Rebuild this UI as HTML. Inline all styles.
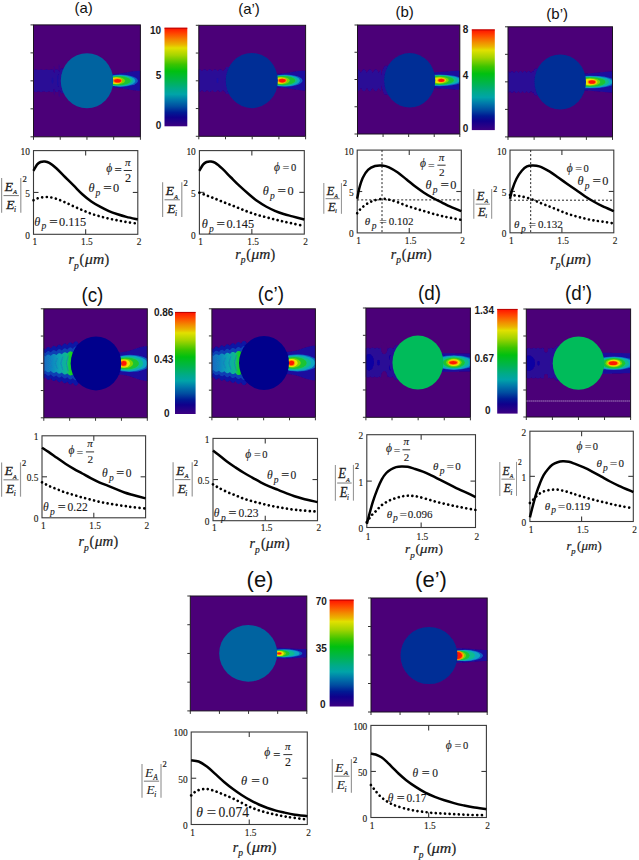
<!DOCTYPE html><html><head><meta charset="utf-8"><style>html,body{margin:0;padding:0;background:#fff;}svg{display:block;}</style></head><body>
<svg width="639" height="860" viewBox="0 0 639 860">
<rect width="639" height="860" fill="#fff"/>
<defs>
<linearGradient id="jet" x1="0" y1="0" x2="0" y2="1">
<stop offset="0.0" stop-color="#ff1000"/>
<stop offset="0.06" stop-color="#ff4800"/>
<stop offset="0.125" stop-color="#f28a00"/>
<stop offset="0.17" stop-color="#eab400"/>
<stop offset="0.205" stop-color="#e2e000"/>
<stop offset="0.28" stop-color="#a4d400"/>
<stop offset="0.37" stop-color="#3cc400"/>
<stop offset="0.44" stop-color="#00c010"/>
<stop offset="0.54" stop-color="#00b450"/>
<stop offset="0.62" stop-color="#00aa8a"/>
<stop offset="0.675" stop-color="#00a4a8"/>
<stop offset="0.735" stop-color="#0078aa"/>
<stop offset="0.8" stop-color="#004ca0"/>
<stop offset="0.86" stop-color="#001a94"/>
<stop offset="0.91" stop-color="#10008c"/>
<stop offset="1.0" stop-color="#3c0082"/>
</linearGradient>
<filter id="bl" x="-5%" y="-5%" width="110%" height="110%"><feGaussianBlur stdDeviation="0.55"/></filter>
</defs>
<clipPath id="hm1"><rect x="33.5" y="24.9" width="106.9" height="111.9"/></clipPath>
<rect x="33.5" y="24.9" width="106.9" height="111.9" fill="#4b0078"/>
<g clip-path="url(#hm1)"><g filter="url(#bl)">
<path d="M31.5,69.47 L31.85,69.6 L32.21,69.74 L32.56,69.88 L32.91,69.99 L33.27,70.05 L33.62,70.04 L33.97,69.97 L34.33,69.85 L34.68,69.71 L35.03,69.56 L35.39,69.44 L35.74,69.37 L36.09,69.35 L36.45,69.4 L36.8,69.5 L37.15,69.64 L37.51,69.79 L37.86,69.92 L38.21,70.01 L38.56,70.05 L38.92,70.02 L39.27,69.94 L39.62,69.81 L39.98,69.67 L40.33,69.53 L40.68,69.42 L41.04,69.36 L41.39,69.36 L41.74,69.42 L42.1,69.54 L42.45,69.68 L42.8,69.83 L43.16,69.95 L43.51,70.03 L43.86,70.05 L44.22,70.01 L44.57,69.91 L44.92,69.77 L45.28,69.63 L45.63,69.49 L45.98,69.39 L46.34,69.35 L46.69,69.37 L47.04,69.45 L47.4,69.57 L47.75,69.72 L48.1,69.86 L48.46,69.98 L48.81,70.04 L49.16,70.04 L49.52,69.98 L49.87,69.87 L50.22,69.73 L50.57,69.59 L50.93,69.46 L51.28,69.38 L51.63,69.35 L51.99,69.39 L52.34,69.48 L52.69,69.61 L53.05,69.76 L53.4,69.9 L53.75,70 L54.11,70.05 L54.46,70.03 L54.81,69.96 L55.17,69.84 L55.52,69.69 L55.87,69.55 L56.23,69.43 L56.58,69.36 L56.93,69.35 L57.29,69.41 L57.64,69.52 L57.99,69.65 L58.35,69.8 L58.7,69.93 L59.05,70.02 L59.41,70.05 L59.76,70.02 L60.11,69.93 L60.47,69.8 L60.82,69.65 L61.17,69.51 L61.53,69.41 L61.88,69.35 L62.23,69.36 L62.58,69.43 L62.94,69.55 L63.29,69.7 L63.64,69.84 L64,69.96 L64.35,70.03 L64.7,70.05 L65.06,70 L65.41,69.9 L65.76,69.76 L66.12,69.61 L66.47,69.48 L66.82,69.39 L67.18,69.35 L67.53,69.38 L67.88,69.46 L68.24,69.59 L68.59,69.74 L68.59,91.76 L68.24,91.91 L67.88,92.04 L67.53,92.12 L67.18,92.15 L66.82,92.11 L66.47,92.02 L66.12,91.89 L65.76,91.74 L65.41,91.6 L65.06,91.5 L64.7,91.45 L64.35,91.47 L64,91.54 L63.64,91.66 L63.29,91.8 L62.94,91.95 L62.58,92.07 L62.23,92.14 L61.88,92.15 L61.53,92.09 L61.17,91.99 L60.82,91.85 L60.47,91.7 L60.11,91.57 L59.76,91.48 L59.41,91.45 L59.05,91.48 L58.7,91.57 L58.35,91.7 L57.99,91.85 L57.64,91.98 L57.29,92.09 L56.93,92.15 L56.58,92.14 L56.23,92.07 L55.87,91.95 L55.52,91.81 L55.17,91.66 L54.81,91.54 L54.46,91.47 L54.11,91.45 L53.75,91.5 L53.4,91.6 L53.05,91.74 L52.69,91.89 L52.34,92.02 L51.99,92.11 L51.63,92.15 L51.28,92.12 L50.93,92.04 L50.57,91.91 L50.22,91.77 L49.87,91.63 L49.52,91.52 L49.16,91.46 L48.81,91.46 L48.46,91.52 L48.1,91.64 L47.75,91.78 L47.4,91.93 L47.04,92.05 L46.69,92.13 L46.34,92.15 L45.98,92.11 L45.63,92.01 L45.28,91.87 L44.92,91.73 L44.57,91.59 L44.22,91.49 L43.86,91.45 L43.51,91.47 L43.16,91.55 L42.8,91.67 L42.45,91.82 L42.1,91.96 L41.74,92.08 L41.39,92.14 L41.04,92.14 L40.68,92.08 L40.33,91.97 L39.98,91.83 L39.62,91.69 L39.27,91.56 L38.92,91.48 L38.56,91.45 L38.21,91.49 L37.86,91.58 L37.51,91.71 L37.15,91.86 L36.8,92 L36.45,92.1 L36.09,92.15 L35.74,92.13 L35.39,92.06 L35.03,91.94 L34.68,91.79 L34.33,91.65 L33.97,91.53 L33.62,91.46 L33.27,91.45 L32.91,91.51 L32.56,91.62 L32.21,91.76 L31.85,91.9 L31.5,92.03 Z" fill="#2a0896"/>
<ellipse cx="52.5" cy="80.7" rx="0.9" ry="3" fill="#1a0aa0"/><ellipse cx="58" cy="80.7" rx="1" ry="6" fill="#1a0aa0"/>
<clipPath id="hm1f"><rect x="33.5" y="68.25" width="53.5" height="25"/></clipPath>
<ellipse clip-path="url(#hm1f)" cx="87" cy="80.75" rx="28.8" ry="28.6" fill="#2a0896"/>
<ellipse cx="54.3" cy="69.5" rx="0.8" ry="3.2" fill="#3c0488"/><ellipse cx="54.3" cy="92" rx="0.8" ry="3.2" fill="#3c0488"/><ellipse cx="59.2" cy="68" rx="0.8" ry="3.5" fill="#3c0488"/><ellipse cx="59.2" cy="93.5" rx="0.8" ry="3.5" fill="#3c0488"/>
<path d="M109.3,74.05 C124.14,74.05 129.56,70.75 142.4,70.75 L142.4,90.75 C129.56,90.75 124.14,87.45 109.3,87.45 Z" fill="#1a0c9e"/>
<ellipse cx="120.69" cy="80.75" rx="17.25" ry="6.16" fill="#0a5cc0"/><ellipse cx="119.9" cy="80.75" rx="15.4" ry="5.7" fill="#10a4c4"/><ellipse cx="119.19" cy="80.75" rx="13.75" ry="5.15" fill="#10bc90"/><ellipse cx="118.49" cy="80.75" rx="12.11" ry="4.6" fill="#1ec432"/><ellipse cx="116.83" cy="80.75" rx="8.24" ry="3.69" fill="#80d400"/><ellipse cx="115.94" cy="80.75" rx="6.16" ry="3.2" fill="#ece600"/><ellipse cx="117.6" cy="80.75" rx="4.55" ry="2.43" fill="#ff8c00"/><ellipse cx="117.6" cy="80.75" rx="3.5" ry="1.8" fill="#ff1800"/>
<ellipse cx="87" cy="80.75" rx="26.3" ry="27.6" fill="#0063a0"/>
</g></g>
<rect x="33.5" y="24.9" width="106.9" height="111.9" fill="none" stroke="#1a1020" stroke-width="1"/>
<line x1="30.5" y1="24.9" x2="33.5" y2="24.9" stroke="#333" stroke-width="1"/>
<line x1="33.5" y1="136.8" x2="33.5" y2="139.8" stroke="#333" stroke-width="1"/>
<line x1="30.5" y1="52.88" x2="33.5" y2="52.88" stroke="#333" stroke-width="1"/>
<line x1="60.23" y1="136.8" x2="60.23" y2="139.8" stroke="#333" stroke-width="1"/>
<line x1="30.5" y1="80.85" x2="33.5" y2="80.85" stroke="#333" stroke-width="1"/>
<line x1="86.95" y1="136.8" x2="86.95" y2="139.8" stroke="#333" stroke-width="1"/>
<line x1="30.5" y1="108.83" x2="33.5" y2="108.83" stroke="#333" stroke-width="1"/>
<line x1="113.68" y1="136.8" x2="113.68" y2="139.8" stroke="#333" stroke-width="1"/>
<line x1="30.5" y1="136.8" x2="33.5" y2="136.8" stroke="#333" stroke-width="1"/>
<line x1="140.4" y1="136.8" x2="140.4" y2="139.8" stroke="#333" stroke-width="1"/>
<clipPath id="hm2"><rect x="198.8" y="25.3" width="106.8" height="111"/></clipPath>
<rect x="198.8" y="25.3" width="106.8" height="111" fill="#4b0078"/>
<g clip-path="url(#hm2)"><g filter="url(#bl)">
<path d="M196.8,71.2 L197.15,70.78 L197.51,70.37 L197.86,70.01 L198.21,69.69 L198.57,69.45 L198.92,69.28 L199.27,69.21 L199.63,69.22 L199.98,69.32 L200.33,69.51 L200.68,69.77 L201.04,70.1 L201.39,70.48 L201.74,70.89 L202.1,71.08 L202.45,70.66 L202.8,70.27 L203.16,69.91 L203.51,69.62 L203.86,69.39 L204.22,69.25 L204.57,69.2 L204.92,69.24 L205.28,69.36 L205.63,69.57 L205.98,69.86 L206.34,70.2 L206.69,70.59 L207.04,71.01 L207.4,70.96 L207.75,70.55 L208.1,70.16 L208.45,69.83 L208.81,69.55 L209.16,69.35 L209.51,69.23 L209.87,69.2 L210.22,69.26 L210.57,69.41 L210.93,69.65 L211.28,69.95 L211.63,70.31 L211.99,70.71 L212.34,71.13 L212.69,70.85 L213.05,70.44 L213.4,70.06 L213.75,69.74 L214.11,69.49 L214.46,69.31 L214.81,69.21 L215.17,69.21 L215.52,69.3 L215.87,69.47 L216.22,69.72 L216.58,70.04 L216.93,70.41 L217.28,70.82 L217.64,71.16 L217.99,70.73 L218.34,70.33 L218.7,69.97 L219.05,69.66 L219.4,69.43 L219.76,69.27 L220.11,69.2 L220.46,69.23 L220.82,69.34 L221.17,69.53 L221.52,69.8 L221.88,70.14 L222.23,70.52 L222.58,70.94 L222.93,71.04 L223.29,70.62 L223.64,70.23 L223.99,69.88 L224.35,69.59 L224.7,69.38 L225.05,69.24 L225.41,69.2 L225.76,69.25 L226.11,69.38 L226.47,69.6 L226.82,69.89 L227.17,70.24 L227.53,70.64 L227.88,71.05 L228.23,70.92 L228.59,70.51 L228.94,70.13 L229.29,69.79 L229.65,69.52 L230,69.33 L230.35,69.22 L230.7,69.2 L231.06,69.28 L231.41,69.44 L231.76,69.67 L232.12,69.98 L232.47,70.35 L232.82,70.75 L233.18,71.17 L233.53,70.8 L233.53,90.4 L233.18,90.03 L232.82,90.45 L232.47,90.85 L232.12,91.22 L231.76,91.53 L231.41,91.76 L231.06,91.92 L230.7,92 L230.35,91.98 L230,91.87 L229.65,91.68 L229.29,91.41 L228.94,91.07 L228.59,90.69 L228.23,90.28 L227.88,90.15 L227.53,90.56 L227.17,90.96 L226.82,91.31 L226.47,91.6 L226.11,91.82 L225.76,91.95 L225.41,92 L225.05,91.96 L224.7,91.82 L224.35,91.61 L223.99,91.32 L223.64,90.97 L223.29,90.58 L222.93,90.16 L222.58,90.26 L222.23,90.68 L221.88,91.06 L221.52,91.4 L221.17,91.67 L220.82,91.86 L220.46,91.97 L220.11,92 L219.76,91.93 L219.4,91.77 L219.05,91.54 L218.7,91.23 L218.34,90.87 L217.99,90.47 L217.64,90.04 L217.28,90.38 L216.93,90.79 L216.58,91.16 L216.22,91.48 L215.87,91.73 L215.52,91.9 L215.17,91.99 L214.81,91.99 L214.46,91.89 L214.11,91.71 L213.75,91.46 L213.4,91.14 L213.05,90.76 L212.69,90.35 L212.34,90.07 L211.99,90.49 L211.63,90.89 L211.28,91.25 L210.93,91.55 L210.57,91.79 L210.22,91.94 L209.87,92 L209.51,91.97 L209.16,91.85 L208.81,91.65 L208.45,91.37 L208.1,91.04 L207.75,90.65 L207.4,90.24 L207.04,90.19 L206.69,90.61 L206.34,91 L205.98,91.34 L205.63,91.63 L205.28,91.84 L204.92,91.96 L204.57,92 L204.22,91.95 L203.86,91.81 L203.51,91.58 L203.16,91.29 L202.8,90.93 L202.45,90.54 L202.1,90.12 L201.74,90.31 L201.39,90.72 L201.04,91.1 L200.68,91.43 L200.33,91.69 L199.98,91.88 L199.63,91.98 L199.27,91.99 L198.92,91.92 L198.57,91.75 L198.21,91.51 L197.86,91.19 L197.51,90.83 L197.15,90.42 L196.8,90 Z" fill="#2a0896"/>
<ellipse cx="217.5" cy="80.6" rx="0.9" ry="2.5" fill="#1a0aa8"/>
<clipPath id="hm2f"><rect x="198.8" y="67.1" width="53" height="27"/></clipPath>
<ellipse clip-path="url(#hm2f)" cx="251.8" cy="80.6" rx="29.1" ry="28.8" fill="#2a0896"/>
<path d="M273.9,73.9 C288.98,73.9 294.52,70.6 307.6,70.6 L307.6,90.6 C294.52,90.6 288.98,87.3 273.9,87.3 Z" fill="#1a0c9e"/>
<ellipse cx="285.29" cy="80.6" rx="17.25" ry="6.16" fill="#0a5cc0"/><ellipse cx="284.5" cy="80.6" rx="15.4" ry="5.7" fill="#10a4c4"/><ellipse cx="283.8" cy="80.6" rx="13.75" ry="5.15" fill="#10bc90"/><ellipse cx="283.09" cy="80.6" rx="12.11" ry="4.6" fill="#1ec432"/><ellipse cx="281.43" cy="80.6" rx="8.24" ry="3.69" fill="#80d400"/><ellipse cx="280.54" cy="80.6" rx="6.16" ry="3.2" fill="#ece600"/><ellipse cx="282.2" cy="80.6" rx="4.55" ry="2.43" fill="#ff8c00"/><ellipse cx="282.2" cy="80.6" rx="3.5" ry="1.8" fill="#ff1800"/>
<ellipse cx="251.8" cy="80.6" rx="26.1" ry="27.6" fill="#002e96"/>
</g></g>
<rect x="198.8" y="25.3" width="106.8" height="111" fill="none" stroke="#1a1020" stroke-width="1"/>
<line x1="195.8" y1="25.3" x2="198.8" y2="25.3" stroke="#333" stroke-width="1"/>
<line x1="198.8" y1="136.3" x2="198.8" y2="139.3" stroke="#333" stroke-width="1"/>
<line x1="195.8" y1="53.05" x2="198.8" y2="53.05" stroke="#333" stroke-width="1"/>
<line x1="225.5" y1="136.3" x2="225.5" y2="139.3" stroke="#333" stroke-width="1"/>
<line x1="195.8" y1="80.8" x2="198.8" y2="80.8" stroke="#333" stroke-width="1"/>
<line x1="252.2" y1="136.3" x2="252.2" y2="139.3" stroke="#333" stroke-width="1"/>
<line x1="195.8" y1="108.55" x2="198.8" y2="108.55" stroke="#333" stroke-width="1"/>
<line x1="278.9" y1="136.3" x2="278.9" y2="139.3" stroke="#333" stroke-width="1"/>
<line x1="195.8" y1="136.3" x2="198.8" y2="136.3" stroke="#333" stroke-width="1"/>
<line x1="305.6" y1="136.3" x2="305.6" y2="139.3" stroke="#333" stroke-width="1"/>
<clipPath id="hm3"><rect x="357.5" y="25" width="102.3" height="109"/></clipPath>
<rect x="357.5" y="25" width="102.3" height="109" fill="#4b0078"/>
<g clip-path="url(#hm3)"><g filter="url(#bl)">
<path d="M355.5,71.89 L355.85,71.29 L356.21,70.73 L356.56,70.25 L356.92,69.85 L357.27,69.55 L357.62,69.37 L357.98,69.3 L358.33,69.35 L358.69,69.53 L359.04,69.81 L359.4,70.2 L359.75,70.67 L360.1,71.22 L360.46,71.82 L360.81,72.45 L361.17,72.31 L361.52,71.68 L361.88,71.09 L362.23,70.56 L362.58,70.1 L362.94,69.74 L363.29,69.48 L363.65,69.33 L364,69.3 L364.35,69.4 L364.71,69.61 L365.06,69.93 L365.42,70.35 L365.77,70.85 L366.12,71.42 L366.48,72.03 L366.83,72.67 L367.19,72.09 L367.54,71.48 L367.9,70.9 L368.25,70.39 L368.6,69.97 L368.96,69.64 L369.31,69.41 L369.67,69.31 L370.02,69.32 L370.38,69.46 L370.73,69.71 L371.08,70.06 L371.44,70.51 L371.79,71.04 L372.15,71.62 L372.5,72.25 L372.85,72.51 L373.21,71.88 L373.56,71.27 L373.92,70.72 L374.27,70.24 L374.62,69.84 L374.98,69.55 L375.33,69.36 L375.69,69.3 L376.04,69.36 L376.4,69.53 L376.75,69.82 L377.1,70.21 L377.46,70.68 L377.81,71.23 L378.17,71.83 L378.52,72.47 L378.88,72.29 L379.23,71.67 L379.58,71.08 L379.94,70.55 L380.29,70.09 L380.65,69.73 L381,69.47 L381,91.13 L380.65,90.87 L380.29,90.51 L379.94,90.05 L379.58,89.52 L379.23,88.93 L378.88,88.31 L378.52,88.13 L378.17,88.77 L377.81,89.37 L377.46,89.92 L377.1,90.39 L376.75,90.78 L376.4,91.07 L376.04,91.24 L375.69,91.3 L375.33,91.24 L374.98,91.05 L374.62,90.76 L374.27,90.36 L373.92,89.88 L373.56,89.33 L373.21,88.72 L372.85,88.09 L372.5,88.35 L372.15,88.98 L371.79,89.56 L371.44,90.09 L371.08,90.54 L370.73,90.89 L370.38,91.14 L370.02,91.28 L369.67,91.29 L369.31,91.19 L368.96,90.96 L368.6,90.63 L368.25,90.21 L367.9,89.7 L367.54,89.12 L367.19,88.51 L366.83,87.93 L366.48,88.57 L366.12,89.18 L365.77,89.75 L365.42,90.25 L365.06,90.67 L364.71,90.99 L364.35,91.2 L364,91.3 L363.65,91.27 L363.29,91.12 L362.94,90.86 L362.58,90.5 L362.23,90.04 L361.88,89.51 L361.52,88.92 L361.17,88.29 L360.81,88.15 L360.46,88.78 L360.1,89.38 L359.75,89.93 L359.4,90.4 L359.04,90.79 L358.69,91.07 L358.33,91.25 L357.98,91.3 L357.62,91.23 L357.27,91.05 L356.92,90.75 L356.56,90.35 L356.21,89.87 L355.85,89.31 L355.5,88.71 Z" fill="#2a0896"/>
<clipPath id="hm3f"><rect x="357.5" y="65.8" width="52.2" height="29"/></clipPath>
<ellipse clip-path="url(#hm3f)" cx="409.7" cy="80.3" rx="29.1" ry="28.6" fill="#2a0896"/>
<path d="M431.3,72.3 C445.1,72.3 450,70.8 461.8,70.8 L461.8,89.8 C450,89.8 445.1,88.3 431.3,88.3 Z" fill="#1a0c9e"/>
<ellipse cx="439.3" cy="80.3" rx="24" ry="5.83" fill="#0a5cc0"/><ellipse cx="439.3" cy="80.3" rx="21" ry="5.4" fill="#10a4c4"/><ellipse cx="439.3" cy="80.3" rx="17.75" ry="4.95" fill="#10bc90"/><ellipse cx="439.3" cy="80.3" rx="14.5" ry="4.5" fill="#1ec432"/><ellipse cx="439.3" cy="80.3" rx="9.5" ry="3.46" fill="#80d400"/><ellipse cx="439.3" cy="80.3" rx="6.8" ry="2.9" fill="#ece600"/><ellipse cx="441.3" cy="80.3" rx="3.9" ry="2.16" fill="#ff8c00"/><ellipse cx="441.3" cy="80.3" rx="3" ry="1.6" fill="#ff1800"/>
<ellipse cx="409.7" cy="80.3" rx="25.6" ry="27.2" fill="#002e96"/>
</g></g>
<rect x="357.5" y="25" width="102.3" height="109" fill="none" stroke="#1a1020" stroke-width="1"/>
<line x1="354.5" y1="25" x2="357.5" y2="25" stroke="#333" stroke-width="1"/>
<line x1="357.5" y1="134" x2="357.5" y2="137" stroke="#333" stroke-width="1"/>
<line x1="354.5" y1="52.25" x2="357.5" y2="52.25" stroke="#333" stroke-width="1"/>
<line x1="383.07" y1="134" x2="383.07" y2="137" stroke="#333" stroke-width="1"/>
<line x1="354.5" y1="79.5" x2="357.5" y2="79.5" stroke="#333" stroke-width="1"/>
<line x1="408.65" y1="134" x2="408.65" y2="137" stroke="#333" stroke-width="1"/>
<line x1="354.5" y1="106.75" x2="357.5" y2="106.75" stroke="#333" stroke-width="1"/>
<line x1="434.23" y1="134" x2="434.23" y2="137" stroke="#333" stroke-width="1"/>
<line x1="354.5" y1="134" x2="357.5" y2="134" stroke="#333" stroke-width="1"/>
<line x1="459.8" y1="134" x2="459.8" y2="137" stroke="#333" stroke-width="1"/>
<clipPath id="hm4"><rect x="508" y="26.8" width="104.5" height="110.1"/></clipPath>
<rect x="508" y="26.8" width="104.5" height="110.1" fill="#4b0078"/>
<g clip-path="url(#hm4)"><g filter="url(#bl)">
<path d="M506,72.53 L506.35,72.08 L506.7,71.68 L507.05,71.35 L507.4,71.12 L507.75,71.01 L508.11,71.02 L508.46,71.15 L508.81,71.4 L509.16,71.74 L509.51,72.15 L509.86,72.61 L510.21,72.52 L510.56,72.07 L510.91,71.66 L511.26,71.34 L511.61,71.12 L511.96,71.01 L512.32,71.02 L512.67,71.16 L513.02,71.41 L513.37,71.75 L513.72,72.17 L514.07,72.63 L514.42,72.5 L514.77,72.05 L515.12,71.65 L515.47,71.33 L515.82,71.11 L516.18,71.01 L516.53,71.03 L516.88,71.17 L517.23,71.42 L517.58,71.76 L517.93,72.18 L518.28,72.64 L518.63,72.49 L518.98,72.04 L519.33,71.64 L519.68,71.32 L520.03,71.11 L520.39,71.01 L520.74,71.03 L521.09,71.17 L521.44,71.43 L521.79,71.77 L522.14,72.19 L522.49,72.65 L522.84,72.48 L523.19,72.03 L523.54,71.63 L523.89,71.32 L524.25,71.1 L524.6,71.01 L524.95,71.03 L525.3,71.18 L525.65,71.43 L526,71.79 L526.35,72.21 L526.7,72.67 L527.05,72.46 L527.4,72.02 L527.75,71.62 L528.11,71.31 L528.46,71.1 L528.81,71 L529.16,71.03 L529.51,71.18 L529.86,71.44 L530.21,71.8 L530.56,72.22 L530.91,72.68 L531.26,72.45 L531.61,72 L531.96,71.61 L532.32,71.3 L532.67,71.09 L533.02,71 L533.37,71.04 L533.72,71.19 L534.07,71.45 L534.42,71.81 L534.77,72.23 L535.12,72.7 L535.47,72.43 L535.82,71.99 L536.18,71.6 L536.53,71.29 L536.88,71.09 L537.23,71 L537.58,71.04 L537.93,71.2 L538.28,71.46 L538.63,71.82 L538.98,72.25 L539.33,72.71 L539.68,72.42 L540.03,71.98 L540.39,71.59 L540.74,71.29 L541.09,71.09 L541.44,71 L541.79,71.04 L542.14,71.2 L542.14,92.8 L541.79,92.96 L541.44,93 L541.09,92.91 L540.74,92.71 L540.39,92.41 L540.03,92.02 L539.68,91.58 L539.33,91.29 L538.98,91.75 L538.63,92.18 L538.28,92.54 L537.93,92.8 L537.58,92.96 L537.23,93 L536.88,92.91 L536.53,92.71 L536.18,92.4 L535.82,92.01 L535.47,91.57 L535.12,91.3 L534.77,91.77 L534.42,92.19 L534.07,92.55 L533.72,92.81 L533.37,92.96 L533.02,93 L532.67,92.91 L532.32,92.7 L531.96,92.39 L531.61,92 L531.26,91.55 L530.91,91.32 L530.56,91.78 L530.21,92.2 L529.86,92.56 L529.51,92.82 L529.16,92.97 L528.81,93 L528.46,92.9 L528.11,92.69 L527.75,92.38 L527.4,91.98 L527.05,91.54 L526.7,91.33 L526.35,91.79 L526,92.21 L525.65,92.57 L525.3,92.82 L524.95,92.97 L524.6,92.99 L524.25,92.9 L523.89,92.68 L523.54,92.37 L523.19,91.97 L522.84,91.52 L522.49,91.35 L522.14,91.81 L521.79,92.23 L521.44,92.57 L521.09,92.83 L520.74,92.97 L520.39,92.99 L520.03,92.89 L519.68,92.68 L519.33,92.36 L518.98,91.96 L518.63,91.51 L518.28,91.36 L517.93,91.82 L517.58,92.24 L517.23,92.58 L516.88,92.83 L516.53,92.97 L516.18,92.99 L515.82,92.89 L515.47,92.67 L515.12,92.35 L514.77,91.95 L514.42,91.5 L514.07,91.37 L513.72,91.83 L513.37,92.25 L513.02,92.59 L512.67,92.84 L512.32,92.98 L511.96,92.99 L511.61,92.88 L511.26,92.66 L510.91,92.34 L510.56,91.93 L510.21,91.48 L509.86,91.39 L509.51,91.85 L509.16,92.26 L508.81,92.6 L508.46,92.85 L508.11,92.98 L507.75,92.99 L507.4,92.88 L507.05,92.65 L506.7,92.32 L506.35,91.92 L506,91.47 Z" fill="#2a0896"/>
<clipPath id="hm4f"><rect x="508" y="68.5" width="52.2" height="27"/></clipPath>
<ellipse clip-path="url(#hm4f)" cx="560.2" cy="82" rx="28.8" ry="28.7" fill="#2a0896"/>
<path d="M582,73.5 C596.6,73.5 601.9,71.5 614.5,71.5 L614.5,92.5 C601.9,92.5 596.6,90.5 582,90.5 Z" fill="#1a0c9e"/>
<ellipse cx="590" cy="82" rx="25.68" ry="6.37" fill="#0a5cc0"/><ellipse cx="590" cy="82" rx="22.5" ry="5.9" fill="#10a4c4"/><ellipse cx="590" cy="82" rx="19" ry="5.35" fill="#10bc90"/><ellipse cx="590" cy="82" rx="15.5" ry="4.8" fill="#1ec432"/><ellipse cx="590" cy="82" rx="10.3" ry="3.76" fill="#80d400"/><ellipse cx="590" cy="82" rx="7.5" ry="3.2" fill="#ece600"/><ellipse cx="592" cy="82" rx="4.42" ry="2.36" fill="#ff8c00"/><ellipse cx="592" cy="82" rx="3.4" ry="1.75" fill="#ff1800"/>
<ellipse cx="560.2" cy="82" rx="25.8" ry="27.5" fill="#002e96"/>
</g></g>
<rect x="508" y="26.8" width="104.5" height="110.1" fill="none" stroke="#1a1020" stroke-width="1"/>
<line x1="505" y1="26.8" x2="508" y2="26.8" stroke="#333" stroke-width="1"/>
<line x1="508" y1="136.9" x2="508" y2="139.9" stroke="#333" stroke-width="1"/>
<line x1="505" y1="54.33" x2="508" y2="54.33" stroke="#333" stroke-width="1"/>
<line x1="534.12" y1="136.9" x2="534.12" y2="139.9" stroke="#333" stroke-width="1"/>
<line x1="505" y1="81.85" x2="508" y2="81.85" stroke="#333" stroke-width="1"/>
<line x1="560.25" y1="136.9" x2="560.25" y2="139.9" stroke="#333" stroke-width="1"/>
<line x1="505" y1="109.38" x2="508" y2="109.38" stroke="#333" stroke-width="1"/>
<line x1="586.38" y1="136.9" x2="586.38" y2="139.9" stroke="#333" stroke-width="1"/>
<line x1="505" y1="136.9" x2="508" y2="136.9" stroke="#333" stroke-width="1"/>
<line x1="612.5" y1="136.9" x2="612.5" y2="139.9" stroke="#333" stroke-width="1"/>
<rect x="164.5" y="27.8" width="22.8" height="98.5" fill="url(#jet)"/>
<line x1="164.5" y1="28.2" x2="187.3" y2="28.2" stroke="#b00000" stroke-width="0.9"/>
<text x="161.2" y="34" font-family='"Liberation Sans", sans-serif' font-weight="bold" font-size="10" fill="#1a1a1a" text-anchor="end">10</text>
<text x="161.2" y="78.9" font-family='"Liberation Sans", sans-serif' font-weight="bold" font-size="10" fill="#1a1a1a" text-anchor="end">5</text>
<text x="161.2" y="129.3" font-family='"Liberation Sans", sans-serif' font-weight="bold" font-size="10" fill="#1a1a1a" text-anchor="end">0</text>
<rect x="471.8" y="29.5" width="23" height="100.6" fill="url(#jet)"/>
<line x1="471.8" y1="29.9" x2="494.8" y2="29.9" stroke="#b00000" stroke-width="0.9"/>
<text x="468.2" y="33.3" font-family='"Liberation Sans", sans-serif' font-weight="bold" font-size="10" fill="#1a1a1a" text-anchor="end">8</text>
<text x="468.2" y="78.8" font-family='"Liberation Sans", sans-serif' font-weight="bold" font-size="10" fill="#1a1a1a" text-anchor="end">4</text>
<text x="468.2" y="131.8" font-family='"Liberation Sans", sans-serif' font-weight="bold" font-size="10" fill="#1a1a1a" text-anchor="end">0</text>
<text transform="translate(83.7,13.15) scale(1.0,1)" x="0" y="0" font-family='"Liberation Sans", sans-serif' font-size="15" fill="#111" text-anchor="middle">(a)</text>
<text transform="translate(249,13.7) scale(1.0,1)" x="0" y="0" font-family='"Liberation Sans", sans-serif' font-size="15" fill="#111" text-anchor="middle">(a’)</text>
<text transform="translate(404.7,17.1) scale(1.0,1)" x="0" y="0" font-family='"Liberation Sans", sans-serif' font-size="15" fill="#111" text-anchor="middle">(b)</text>
<text transform="translate(557.2,18.7) scale(1.0,1)" x="0" y="0" font-family='"Liberation Sans", sans-serif' font-size="15" fill="#111" text-anchor="middle">(b’)</text>
<clipPath id="hm5"><rect x="43.8" y="308.8" width="103.5" height="109"/></clipPath>
<rect x="43.8" y="308.8" width="103.5" height="109" fill="#4b0078"/>
<g clip-path="url(#hm5)"><g filter="url(#bl)">
<path d="M41.8,348.4 L42.15,348.18 L42.5,348.06 L42.85,348.02 L43.2,348.06 L43.55,348.19 L43.91,348.39 L44.26,348.66 L44.61,348.97 L44.96,349.32 L45.31,349.67 L45.66,349.16 L46.01,348.67 L46.36,348.21 L46.71,347.8 L47.06,347.46 L47.41,347.19 L47.76,347 L48.12,346.9 L48.47,346.89 L48.82,346.97 L49.17,347.12 L49.52,347.34 L49.87,347.63 L50.22,347.95 L50.57,348.31 L50.92,348.37 L51.27,347.87 L51.62,347.38 L51.98,346.94 L52.33,346.55 L52.68,346.23 L53.03,345.99 L53.38,345.83 L53.73,345.76 L54.08,345.78 L54.43,345.88 L54.78,346.05 L55.13,346.3 L55.48,346.6 L55.83,346.94 L56.19,347.3 L56.54,347.08 L56.89,346.57 L57.24,346.1 L57.59,345.68 L57.94,345.31 L58.29,345.01 L58.64,344.8 L58.99,344.67 L59.34,344.63 L59.69,344.67 L60.04,344.8 L60.4,345 L60.75,345.26 L61.1,345.57 L61.45,345.92 L61.8,346.29 L62.15,345.78 L62.5,345.29 L62.85,344.83 L63.2,344.42 L63.55,344.08 L63.9,343.8 L64.26,343.62 L64.61,343.51 L64.96,343.5 L65.31,343.57 L65.66,343.72 L66.01,343.95 L66.36,344.23 L66.71,344.55 L67.06,344.91 L67.41,344.99 L67.76,344.49 L68.11,344 L68.47,343.56 L68.82,343.17 L69.17,342.85 L69.52,342.6 L69.87,342.44 L70.22,342.37 L70.57,342.38 L70.92,342.48 L71.27,342.66 L71.62,342.9 L71.97,343.2 L72.33,343.54 L72.68,343.9 L73.03,343.7 L73.38,343.2 L73.73,342.72 L74.08,342.3 L74.43,341.93 L74.78,341.63 L75.13,341.41 L75.48,341.28 L75.83,341.23 L76.18,341.28 L76.54,341.4 L76.89,341.6 L77.24,341.86 L77.59,342.17 L77.94,342.52 L78.29,342.89 L78.29,383.91 L77.94,384.28 L77.59,384.63 L77.24,384.94 L76.89,385.2 L76.54,385.4 L76.18,385.52 L75.83,385.57 L75.48,385.52 L75.13,385.39 L74.78,385.17 L74.43,384.87 L74.08,384.5 L73.73,384.08 L73.38,383.6 L73.03,383.1 L72.68,382.9 L72.33,383.26 L71.97,383.6 L71.62,383.9 L71.27,384.14 L70.92,384.32 L70.57,384.42 L70.22,384.43 L69.87,384.36 L69.52,384.2 L69.17,383.95 L68.82,383.63 L68.47,383.24 L68.11,382.8 L67.76,382.31 L67.41,381.81 L67.06,381.89 L66.71,382.25 L66.36,382.57 L66.01,382.85 L65.66,383.08 L65.31,383.23 L64.96,383.3 L64.61,383.29 L64.26,383.18 L63.9,383 L63.55,382.72 L63.2,382.38 L62.85,381.97 L62.5,381.51 L62.15,381.02 L61.8,380.51 L61.45,380.88 L61.1,381.23 L60.75,381.54 L60.4,381.8 L60.04,382 L59.69,382.13 L59.34,382.17 L58.99,382.13 L58.64,382 L58.29,381.79 L57.94,381.49 L57.59,381.12 L57.24,380.7 L56.89,380.23 L56.54,379.72 L56.19,379.5 L55.83,379.86 L55.48,380.2 L55.13,380.5 L54.78,380.75 L54.43,380.92 L54.08,381.02 L53.73,381.04 L53.38,380.97 L53.03,380.81 L52.68,380.57 L52.33,380.25 L51.98,379.86 L51.62,379.42 L51.27,378.93 L50.92,378.43 L50.57,378.49 L50.22,378.85 L49.87,379.17 L49.52,379.46 L49.17,379.68 L48.82,379.83 L48.47,379.91 L48.12,379.9 L47.76,379.8 L47.41,379.61 L47.06,379.34 L46.71,379 L46.36,378.59 L46.01,378.13 L45.66,377.64 L45.31,377.13 L44.96,377.48 L44.61,377.83 L44.26,378.14 L43.91,378.41 L43.55,378.61 L43.2,378.74 L42.85,378.78 L42.5,378.74 L42.15,378.62 L41.8,378.4 Z" fill="#0c12a4"/>
<linearGradient id="cg5" gradientUnits="userSpaceOnUse" x1="43.8" y1="0" x2="72.2" y2="0"><stop offset="0" stop-color="#1468c0"/><stop offset="0.3" stop-color="#1088c0"/><stop offset="0.55" stop-color="#10a4b4"/><stop offset="0.8" stop-color="#10b890"/><stop offset="0.93" stop-color="#18cc30"/><stop offset="1" stop-color="#10d810"/></linearGradient><path d="M41.8,352.26 L42.15,352.09 L42.5,351.98 L42.85,351.95 L43.21,351.99 L43.56,352.1 L43.91,352.26 L44.26,352.48 L44.61,352.74 L44.96,353.03 L45.32,353.3 L45.67,352.88 L46.02,352.48 L46.37,352.11 L46.72,351.77 L47.07,351.49 L47.42,351.28 L47.78,351.13 L48.13,351.05 L48.48,351.04 L48.83,351.1 L49.18,351.23 L49.53,351.42 L49.89,351.65 L50.24,351.93 L50.59,352.22 L50.94,352.23 L51.29,351.82 L51.64,351.43 L51.99,351.07 L52.35,350.75 L52.7,350.49 L53.05,350.3 L53.4,350.17 L53.75,350.12 L54.1,350.14 L54.46,350.23 L54.81,350.38 L55.16,350.58 L55.51,350.83 L55.86,351.11 L56.21,351.41 L56.56,351.17 L56.92,350.76 L57.27,350.38 L57.62,350.03 L57.97,349.74 L58.32,349.5 L58.67,349.33 L59.03,349.23 L59.38,349.2 L59.73,349.25 L60.08,349.36 L60.43,349.53 L60.78,349.75 L61.13,350.01 L61.49,350.3 L61.84,350.52 L62.19,350.11 L62.54,349.71 L62.89,349.34 L63.24,349.01 L63.59,348.73 L63.95,348.52 L64.3,348.37 L64.65,348.3 L65,348.29 L65.35,348.36 L65.7,348.5 L66.06,348.69 L66.41,348.92 L66.76,349.19 L67.11,349.49 L67.46,349.46 L67.81,349.05 L68.16,348.65 L68.52,348.3 L68.87,347.99 L69.22,347.73 L69.57,347.54 L69.92,347.42 L70.27,347.37 L70.63,347.39 L70.98,347.49 L71.33,347.64 L71.68,347.85 L72.03,348.1 L72.38,348.38 L72.73,348.68 L73.09,348.4 L73.44,347.99 L73.79,347.61 L74.14,347.26 L74.49,346.97 L74.84,346.74 L75.2,346.57 L75.55,346.48 L75.9,346.46 L76.25,346.5 L76.6,346.62 L76.95,346.79 L77.3,347.02 L77.66,347.28 L78.01,347.57 L78.36,347.75 L78.71,347.33 L79.06,346.93 L79.41,346.56 L79.77,346.24 L80.12,345.97 L80.47,345.76 L80.82,345.62 L80.82,381.18 L80.47,381.04 L80.12,380.83 L79.77,380.56 L79.41,380.24 L79.06,379.87 L78.71,379.47 L78.36,379.05 L78.01,379.23 L77.66,379.52 L77.3,379.78 L76.95,380.01 L76.6,380.18 L76.25,380.3 L75.9,380.34 L75.55,380.32 L75.2,380.23 L74.84,380.06 L74.49,379.83 L74.14,379.54 L73.79,379.19 L73.44,378.81 L73.09,378.4 L72.73,378.12 L72.38,378.42 L72.03,378.7 L71.68,378.95 L71.33,379.16 L70.98,379.31 L70.63,379.41 L70.27,379.43 L69.92,379.38 L69.57,379.26 L69.22,379.07 L68.87,378.81 L68.52,378.5 L68.16,378.15 L67.81,377.75 L67.46,377.34 L67.11,377.31 L66.76,377.61 L66.41,377.88 L66.06,378.11 L65.7,378.3 L65.35,378.44 L65,378.51 L64.65,378.5 L64.3,378.43 L63.95,378.28 L63.59,378.07 L63.24,377.79 L62.89,377.46 L62.54,377.09 L62.19,376.69 L61.84,376.28 L61.49,376.5 L61.13,376.79 L60.78,377.05 L60.43,377.27 L60.08,377.44 L59.73,377.55 L59.38,377.6 L59.03,377.57 L58.67,377.47 L58.32,377.3 L57.97,377.06 L57.62,376.77 L57.27,376.42 L56.92,376.04 L56.56,375.63 L56.21,375.39 L55.86,375.69 L55.51,375.97 L55.16,376.22 L54.81,376.42 L54.46,376.57 L54.1,376.66 L53.75,376.68 L53.4,376.63 L53.05,376.5 L52.7,376.31 L52.35,376.05 L51.99,375.73 L51.64,375.37 L51.29,374.98 L50.94,374.57 L50.59,374.58 L50.24,374.87 L49.89,375.15 L49.53,375.38 L49.18,375.57 L48.83,375.7 L48.48,375.76 L48.13,375.75 L47.78,375.67 L47.42,375.52 L47.07,375.31 L46.72,375.03 L46.37,374.69 L46.02,374.32 L45.67,373.92 L45.32,373.5 L44.96,373.77 L44.61,374.06 L44.26,374.32 L43.91,374.54 L43.56,374.7 L43.21,374.81 L42.85,374.85 L42.5,374.82 L42.15,374.71 L41.8,374.54 Z" fill="#0a40b4"/><path d="M41.8,355.14 L42.15,355.03 L42.5,354.98 L42.85,354.99 L43.21,355.06 L43.56,355.18 L43.91,355.36 L44.26,355.59 L44.61,355.84 L44.96,356.13 L45.32,356.39 L45.67,356.04 L46.02,355.71 L46.37,355.4 L46.72,355.12 L47.07,354.9 L47.42,354.72 L47.78,354.61 L48.13,354.56 L48.48,354.57 L48.83,354.64 L49.18,354.77 L49.53,354.95 L49.89,355.17 L50.24,355.43 L50.59,355.7 L50.94,355.73 L51.29,355.37 L51.64,355.03 L51.99,354.72 L52.35,354.45 L52.7,354.23 L53.05,354.07 L53.4,353.96 L53.75,353.92 L54.1,353.95 L54.46,354.03 L54.81,354.17 L55.16,354.36 L55.51,354.58 L55.86,354.84 L56.21,355.11 L56.56,354.9 L56.92,354.54 L57.27,354.2 L57.62,353.9 L57.97,353.63 L58.32,353.42 L58.67,353.27 L59.03,353.19 L59.38,353.16 L59.73,353.2 L60.08,353.3 L60.43,353.45 L60.78,353.64 L61.13,353.87 L61.49,354.13 L61.84,354.32 L62.19,353.95 L62.54,353.59 L62.89,353.26 L63.24,352.96 L63.59,352.71 L63.95,352.51 L64.3,352.38 L64.65,352.31 L65,352.3 L65.35,352.35 L65.7,352.46 L66.06,352.63 L66.41,352.83 L66.76,353.06 L67.11,353.32 L67.46,353.28 L67.81,352.91 L68.16,352.55 L68.52,352.22 L68.87,351.94 L69.22,351.7 L69.57,351.52 L69.92,351.4 L70.27,351.35 L70.63,351.36 L70.98,351.42 L71.33,351.55 L71.68,351.72 L72.03,351.93 L72.38,352.17 L72.73,352.42 L73.09,352.16 L73.44,351.78 L73.79,351.43 L74.14,351.11 L74.49,350.83 L74.84,350.61 L75.2,350.45 L75.55,350.35 L75.9,350.31 L76.25,350.34 L76.6,350.42 L76.95,350.56 L77.3,350.74 L77.66,350.96 L78.01,351.2 L78.36,351.34 L78.71,350.95 L79.06,350.58 L79.41,350.23 L79.77,349.93 L80.12,349.67 L80.47,349.46 L80.82,349.31 L80.82,377.49 L80.47,377.34 L80.12,377.13 L79.77,376.87 L79.41,376.57 L79.06,376.22 L78.71,375.85 L78.36,375.46 L78.01,375.6 L77.66,375.84 L77.3,376.06 L76.95,376.24 L76.6,376.38 L76.25,376.46 L75.9,376.49 L75.55,376.45 L75.2,376.35 L74.84,376.19 L74.49,375.97 L74.14,375.69 L73.79,375.37 L73.44,375.02 L73.09,374.64 L72.73,374.38 L72.38,374.63 L72.03,374.87 L71.68,375.08 L71.33,375.25 L70.98,375.38 L70.63,375.44 L70.27,375.45 L69.92,375.4 L69.57,375.28 L69.22,375.1 L68.87,374.86 L68.52,374.58 L68.16,374.25 L67.81,373.89 L67.46,373.52 L67.11,373.48 L66.76,373.74 L66.41,373.97 L66.06,374.17 L65.7,374.34 L65.35,374.45 L65,374.5 L64.65,374.49 L64.3,374.42 L63.95,374.29 L63.59,374.09 L63.24,373.84 L62.89,373.54 L62.54,373.21 L62.19,372.85 L61.84,372.48 L61.49,372.67 L61.13,372.93 L60.78,373.16 L60.43,373.35 L60.08,373.5 L59.73,373.6 L59.38,373.64 L59.03,373.61 L58.67,373.53 L58.32,373.38 L57.97,373.17 L57.62,372.9 L57.27,372.6 L56.92,372.26 L56.56,371.9 L56.21,371.69 L55.86,371.96 L55.51,372.22 L55.16,372.44 L54.81,372.63 L54.46,372.77 L54.1,372.85 L53.75,372.88 L53.4,372.84 L53.05,372.73 L52.7,372.57 L52.35,372.35 L51.99,372.08 L51.64,371.77 L51.29,371.43 L50.94,371.07 L50.59,371.1 L50.24,371.37 L49.89,371.63 L49.53,371.85 L49.18,372.03 L48.83,372.16 L48.48,372.23 L48.13,372.24 L47.78,372.19 L47.42,372.08 L47.07,371.9 L46.72,371.68 L46.37,371.4 L46.02,371.09 L45.67,370.76 L45.32,370.41 L44.96,370.67 L44.61,370.96 L44.26,371.21 L43.91,371.44 L43.56,371.62 L43.21,371.74 L42.85,371.81 L42.5,371.82 L42.15,371.77 L41.8,371.66 Z" fill="url(#cg5)"/><path d="M51.8,359.4 L49.8,363.4 L51.8,367.4" fill="none" stroke="#1478c0" stroke-width="0.9" opacity="0.7"/><path d="M57.3,358.1 L55.3,363.4 L57.3,368.7" fill="none" stroke="#1478c0" stroke-width="0.9" opacity="0.7"/><path d="M62.8,356.8 L60.8,363.4 L62.8,370" fill="none" stroke="#1478c0" stroke-width="0.9" opacity="0.7"/><path d="M68.3,355.5 L66.3,363.4 L68.3,371.3" fill="none" stroke="#1478c0" stroke-width="0.9" opacity="0.7"/>
<path d="M117.3,352.4 C131.7,352.4 136.9,345.9 149.3,345.9 L149.3,380.9 C136.9,380.9 131.7,374.4 117.3,374.4 Z" fill="#1a0c9e"/>
<ellipse cx="130.04" cy="363.4" rx="20.38" ry="8.64" fill="#0a5cc0"/><ellipse cx="129.1" cy="363.4" rx="18.2" ry="8" fill="#10a4c4"/><ellipse cx="127.84" cy="363.4" rx="15.26" ry="7" fill="#10bc90"/><ellipse cx="126.58" cy="363.4" rx="12.32" ry="6" fill="#1ec432"/><ellipse cx="124.84" cy="363.4" rx="8.27" ry="4.7" fill="#80d400"/><ellipse cx="123.91" cy="363.4" rx="6.09" ry="4" fill="#ece600"/><ellipse cx="123.8" cy="363.4" rx="3.38" ry="3.1" fill="#ff8c00"/><ellipse cx="123.8" cy="363.4" rx="2.6" ry="2.3" fill="#ff1800"/>
<ellipse cx="96" cy="363.4" rx="25.3" ry="27" fill="#00008c"/>
</g></g>
<rect x="43.8" y="308.8" width="103.5" height="109" fill="none" stroke="#1a1020" stroke-width="1"/>
<line x1="40.8" y1="308.8" x2="43.8" y2="308.8" stroke="#333" stroke-width="1"/>
<line x1="43.8" y1="417.8" x2="43.8" y2="420.8" stroke="#333" stroke-width="1"/>
<line x1="40.8" y1="336.05" x2="43.8" y2="336.05" stroke="#333" stroke-width="1"/>
<line x1="69.67" y1="417.8" x2="69.67" y2="420.8" stroke="#333" stroke-width="1"/>
<line x1="40.8" y1="363.3" x2="43.8" y2="363.3" stroke="#333" stroke-width="1"/>
<line x1="95.55" y1="417.8" x2="95.55" y2="420.8" stroke="#333" stroke-width="1"/>
<line x1="40.8" y1="390.55" x2="43.8" y2="390.55" stroke="#333" stroke-width="1"/>
<line x1="121.43" y1="417.8" x2="121.43" y2="420.8" stroke="#333" stroke-width="1"/>
<line x1="40.8" y1="417.8" x2="43.8" y2="417.8" stroke="#333" stroke-width="1"/>
<line x1="147.3" y1="417.8" x2="147.3" y2="420.8" stroke="#333" stroke-width="1"/>
<clipPath id="hm6"><rect x="211.9" y="308.8" width="103.5" height="108.5"/></clipPath>
<rect x="211.9" y="308.8" width="103.5" height="108.5" fill="#4b0078"/>
<g clip-path="url(#hm6)"><g filter="url(#bl)">
<path d="M209.9,348 L210.25,347.78 L210.6,347.66 L210.96,347.62 L211.31,347.66 L211.66,347.8 L212.01,348 L212.36,348.27 L212.72,348.58 L213.07,348.94 L213.42,349.25 L213.77,348.74 L214.12,348.25 L214.47,347.79 L214.83,347.39 L215.18,347.05 L215.53,346.78 L215.88,346.6 L216.23,346.5 L216.59,346.5 L216.94,346.58 L217.29,346.74 L217.64,346.97 L217.99,347.25 L218.35,347.58 L218.7,347.94 L219.05,347.94 L219.4,347.43 L219.75,346.95 L220.11,346.51 L220.46,346.13 L220.81,345.81 L221.16,345.58 L221.51,345.43 L221.87,345.36 L222.22,345.39 L222.57,345.5 L222.92,345.69 L223.27,345.94 L223.62,346.25 L223.98,346.59 L224.33,346.95 L224.68,346.62 L225.03,346.12 L225.38,345.65 L225.74,345.23 L226.09,344.87 L226.44,344.59 L226.79,344.38 L227.14,344.27 L227.5,344.24 L227.85,344.29 L228.2,344.43 L228.55,344.65 L228.9,344.92 L229.26,345.24 L229.61,345.6 L229.96,345.81 L230.31,345.3 L230.66,344.82 L231.02,344.36 L231.37,343.97 L231.72,343.63 L232.07,343.38 L232.42,343.2 L232.78,343.12 L233.13,343.12 L233.48,343.21 L233.83,343.38 L234.18,343.61 L234.53,343.91 L234.89,344.24 L235.24,344.6 L235.59,344.5 L235.94,343.99 L236.29,343.52 L236.65,343.08 L237,342.71 L237.35,342.4 L237.7,342.17 L238.05,342.03 L238.41,341.98 L238.76,342.02 L239.11,342.14 L239.46,342.33 L239.81,342.59 L240.17,342.9 L240.52,343.25 L240.87,343.62 L241.22,343.18 L241.57,342.68 L241.93,342.22 L242.28,341.81 L242.63,341.46 L242.98,341.18 L243.33,340.99 L243.68,340.88 L244.04,340.86 L244.39,340.93 L244.74,341.07 L245.09,341.29 L245.44,341.57 L245.8,341.9 L246.15,342.26 L246.5,342.37 L246.5,383.63 L246.15,383.74 L245.8,384.1 L245.44,384.43 L245.09,384.71 L244.74,384.93 L244.39,385.07 L244.04,385.14 L243.68,385.12 L243.33,385.01 L242.98,384.82 L242.63,384.54 L242.28,384.19 L241.93,383.78 L241.57,383.32 L241.22,382.82 L240.87,382.38 L240.52,382.75 L240.17,383.1 L239.81,383.41 L239.46,383.67 L239.11,383.86 L238.76,383.98 L238.41,384.02 L238.05,383.97 L237.7,383.83 L237.35,383.6 L237,383.29 L236.65,382.92 L236.29,382.48 L235.94,382.01 L235.59,381.5 L235.24,381.4 L234.89,381.76 L234.53,382.09 L234.18,382.39 L233.83,382.62 L233.48,382.79 L233.13,382.88 L232.78,382.88 L232.42,382.8 L232.07,382.62 L231.72,382.37 L231.37,382.03 L231.02,381.64 L230.66,381.18 L230.31,380.7 L229.96,380.19 L229.61,380.4 L229.26,380.76 L228.9,381.08 L228.55,381.35 L228.2,381.57 L227.85,381.71 L227.5,381.76 L227.14,381.73 L226.79,381.62 L226.44,381.41 L226.09,381.13 L225.74,380.77 L225.38,380.35 L225.03,379.88 L224.68,379.38 L224.33,379.05 L223.98,379.41 L223.62,379.75 L223.27,380.06 L222.92,380.31 L222.57,380.5 L222.22,380.61 L221.87,380.64 L221.51,380.57 L221.16,380.42 L220.81,380.19 L220.46,379.87 L220.11,379.49 L219.75,379.05 L219.4,378.57 L219.05,378.06 L218.7,378.06 L218.35,378.42 L217.99,378.75 L217.64,379.03 L217.29,379.26 L216.94,379.42 L216.59,379.5 L216.23,379.5 L215.88,379.4 L215.53,379.22 L215.18,378.95 L214.83,378.61 L214.47,378.21 L214.12,377.75 L213.77,377.26 L213.42,376.75 L213.07,377.06 L212.72,377.42 L212.36,377.73 L212.01,378 L211.66,378.2 L211.31,378.34 L210.96,378.38 L210.6,378.34 L210.25,378.22 L209.9,378 Z" fill="#0c12a4"/>
<linearGradient id="cg6" gradientUnits="userSpaceOnUse" x1="211.9" y1="0" x2="240.5" y2="0"><stop offset="0" stop-color="#1468c0"/><stop offset="0.3" stop-color="#1088c0"/><stop offset="0.55" stop-color="#10a4b4"/><stop offset="0.8" stop-color="#10b890"/><stop offset="0.93" stop-color="#18cc30"/><stop offset="1" stop-color="#10d810"/></linearGradient><path d="M209.9,351.86 L210.25,351.69 L210.6,351.58 L210.96,351.55 L211.31,351.59 L211.66,351.7 L212.01,351.87 L212.37,352.09 L212.72,352.35 L213.07,352.64 L213.42,352.89 L213.77,352.47 L214.13,352.07 L214.48,351.7 L214.83,351.37 L215.18,351.09 L215.54,350.87 L215.89,350.72 L216.24,350.65 L216.59,350.64 L216.95,350.71 L217.3,350.84 L217.65,351.03 L218,351.27 L218.35,351.54 L218.71,351.84 L219.06,351.81 L219.41,351.4 L219.76,351.01 L220.12,350.65 L220.47,350.34 L220.82,350.08 L221.17,349.89 L221.52,349.77 L221.88,349.72 L222.23,349.75 L222.58,349.84 L222.93,350 L223.29,350.2 L223.64,350.46 L223.99,350.74 L224.34,351.04 L224.69,350.74 L225.05,350.33 L225.4,349.95 L225.75,349.61 L226.1,349.32 L226.46,349.09 L226.81,348.92 L227.16,348.83 L227.51,348.81 L227.86,348.86 L228.22,348.98 L228.57,349.16 L228.92,349.38 L229.27,349.65 L229.63,349.94 L229.98,350.08 L230.33,349.67 L230.68,349.27 L231.04,348.9 L231.39,348.58 L231.74,348.31 L232.09,348.1 L232.44,347.96 L232.8,347.9 L233.15,347.91 L233.5,347.99 L233.85,348.13 L234.21,348.32 L234.56,348.57 L234.91,348.85 L235.26,349.14 L235.61,349.01 L235.97,348.59 L236.32,348.21 L236.67,347.85 L237.02,347.55 L237.38,347.31 L237.73,347.13 L238.08,347.02 L238.43,346.98 L238.78,347.02 L239.14,347.12 L239.49,347.28 L239.84,347.5 L240.19,347.76 L240.55,348.04 L240.9,348.34 L241.25,347.93 L241.6,347.53 L241.95,347.15 L242.31,346.82 L242.66,346.53 L243.01,346.31 L243.36,346.16 L243.72,346.08 L244.07,346.07 L244.42,346.13 L244.77,346.26 L245.13,346.45 L245.48,346.68 L245.83,346.95 L246.18,347.24 L246.53,347.27 L246.89,346.86 L247.24,346.46 L247.59,346.1 L247.94,345.79 L248.3,345.53 L248.65,345.33 L249,345.21 L249,380.79 L248.65,380.67 L248.3,380.47 L247.94,380.21 L247.59,379.9 L247.24,379.54 L246.89,379.14 L246.53,378.73 L246.18,378.76 L245.83,379.05 L245.48,379.32 L245.13,379.55 L244.77,379.74 L244.42,379.87 L244.07,379.93 L243.72,379.92 L243.36,379.84 L243.01,379.69 L242.66,379.47 L242.31,379.18 L241.95,378.85 L241.6,378.47 L241.25,378.07 L240.9,377.66 L240.55,377.96 L240.19,378.24 L239.84,378.5 L239.49,378.72 L239.14,378.88 L238.78,378.98 L238.43,379.02 L238.08,378.98 L237.73,378.87 L237.38,378.69 L237.02,378.45 L236.67,378.15 L236.32,377.79 L235.97,377.41 L235.61,376.99 L235.26,376.86 L234.91,377.15 L234.56,377.43 L234.21,377.68 L233.85,377.87 L233.5,378.01 L233.15,378.09 L232.8,378.1 L232.44,378.04 L232.09,377.9 L231.74,377.69 L231.39,377.42 L231.04,377.1 L230.68,376.73 L230.33,376.33 L229.98,375.92 L229.63,376.06 L229.27,376.35 L228.92,376.62 L228.57,376.84 L228.22,377.02 L227.86,377.14 L227.51,377.19 L227.16,377.17 L226.81,377.08 L226.46,376.91 L226.1,376.68 L225.75,376.39 L225.4,376.05 L225.05,375.67 L224.69,375.26 L224.34,374.96 L223.99,375.26 L223.64,375.54 L223.29,375.8 L222.93,376 L222.58,376.16 L222.23,376.25 L221.88,376.28 L221.52,376.23 L221.17,376.11 L220.82,375.92 L220.47,375.66 L220.12,375.35 L219.76,374.99 L219.41,374.6 L219.06,374.19 L218.71,374.16 L218.35,374.46 L218,374.73 L217.65,374.97 L217.3,375.16 L216.95,375.29 L216.59,375.36 L216.24,375.35 L215.89,375.28 L215.54,375.13 L215.18,374.91 L214.83,374.63 L214.48,374.3 L214.13,373.93 L213.77,373.53 L213.42,373.11 L213.07,373.36 L212.72,373.65 L212.37,373.91 L212.01,374.13 L211.66,374.3 L211.31,374.41 L210.96,374.45 L210.6,374.42 L210.25,374.31 L209.9,374.14 Z" fill="#0a40b4"/><path d="M209.9,354.74 L210.25,354.63 L210.6,354.58 L210.96,354.59 L211.31,354.66 L211.66,354.79 L212.01,354.97 L212.37,355.19 L212.72,355.45 L213.07,355.73 L213.42,355.98 L213.77,355.64 L214.13,355.3 L214.48,354.99 L214.83,354.72 L215.18,354.49 L215.54,354.32 L215.89,354.21 L216.24,354.16 L216.59,354.17 L216.95,354.24 L217.3,354.38 L217.65,354.56 L218,354.79 L218.35,355.04 L218.71,355.32 L219.06,355.31 L219.41,354.95 L219.76,354.61 L220.12,354.31 L220.47,354.04 L220.82,353.82 L221.17,353.66 L221.52,353.56 L221.88,353.53 L222.23,353.55 L222.58,353.64 L222.93,353.79 L223.29,353.98 L223.64,354.21 L223.99,354.46 L224.34,354.73 L224.69,354.47 L225.05,354.11 L225.4,353.78 L225.75,353.47 L226.1,353.22 L226.46,353.01 L226.81,352.87 L227.16,352.79 L227.51,352.77 L227.86,352.81 L228.22,352.92 L228.57,353.07 L228.92,353.27 L229.27,353.51 L229.63,353.76 L229.98,353.89 L230.33,353.51 L230.68,353.16 L231.04,352.82 L231.39,352.53 L231.74,352.29 L232.09,352.1 L232.44,351.97 L232.8,351.91 L233.15,351.91 L233.5,351.97 L233.85,352.09 L234.21,352.26 L234.56,352.47 L234.91,352.71 L235.26,352.96 L235.61,352.83 L235.97,352.46 L236.32,352.11 L236.67,351.78 L237.02,351.5 L237.38,351.28 L237.73,351.11 L238.08,351 L238.43,350.95 L238.78,350.97 L239.14,351.05 L239.49,351.19 L239.84,351.37 L240.19,351.58 L240.55,351.83 L240.9,352.08 L241.25,351.7 L241.6,351.33 L241.95,350.98 L242.31,350.67 L242.66,350.4 L243.01,350.19 L243.36,350.04 L243.72,349.95 L244.07,349.93 L244.42,349.96 L244.77,350.06 L245.13,350.21 L245.48,350.4 L245.83,350.62 L246.18,350.87 L246.53,350.87 L246.89,350.49 L247.24,350.12 L247.59,349.78 L247.94,349.48 L248.3,349.23 L248.65,349.04 L249,348.91 L249,377.09 L248.65,376.96 L248.3,376.77 L247.94,376.52 L247.59,376.22 L247.24,375.88 L246.89,375.51 L246.53,375.13 L246.18,375.13 L245.83,375.38 L245.48,375.6 L245.13,375.79 L244.77,375.94 L244.42,376.04 L244.07,376.07 L243.72,376.05 L243.36,375.96 L243.01,375.81 L242.66,375.6 L242.31,375.33 L241.95,375.02 L241.6,374.67 L241.25,374.3 L240.9,373.92 L240.55,374.17 L240.19,374.42 L239.84,374.63 L239.49,374.81 L239.14,374.95 L238.78,375.03 L238.43,375.05 L238.08,375 L237.73,374.89 L237.38,374.72 L237.02,374.5 L236.67,374.22 L236.32,373.89 L235.97,373.54 L235.61,373.17 L235.26,373.04 L234.91,373.29 L234.56,373.53 L234.21,373.74 L233.85,373.91 L233.5,374.03 L233.15,374.09 L232.8,374.09 L232.44,374.03 L232.09,373.9 L231.74,373.71 L231.39,373.47 L231.04,373.18 L230.68,372.84 L230.33,372.49 L229.98,372.11 L229.63,372.24 L229.27,372.49 L228.92,372.73 L228.57,372.93 L228.22,373.08 L227.86,373.19 L227.51,373.23 L227.16,373.21 L226.81,373.13 L226.46,372.99 L226.1,372.78 L225.75,372.53 L225.4,372.22 L225.05,371.89 L224.69,371.53 L224.34,371.27 L223.99,371.54 L223.64,371.79 L223.29,372.02 L222.93,372.21 L222.58,372.36 L222.23,372.45 L221.88,372.47 L221.52,372.44 L221.17,372.34 L220.82,372.18 L220.47,371.96 L220.12,371.69 L219.76,371.39 L219.41,371.05 L219.06,370.69 L218.71,370.68 L218.35,370.96 L218,371.21 L217.65,371.44 L217.3,371.62 L216.95,371.76 L216.59,371.83 L216.24,371.84 L215.89,371.79 L215.54,371.68 L215.18,371.51 L214.83,371.28 L214.48,371.01 L214.13,370.7 L213.77,370.36 L213.42,370.02 L213.07,370.27 L212.72,370.55 L212.37,370.81 L212.01,371.03 L211.66,371.21 L211.31,371.34 L210.96,371.41 L210.6,371.42 L210.25,371.37 L209.9,371.26 Z" fill="url(#cg6)"/><path d="M219.9,359 L217.9,363 L219.9,367" fill="none" stroke="#1478c0" stroke-width="0.9" opacity="0.7"/><path d="M225.4,357.7 L223.4,363 L225.4,368.3" fill="none" stroke="#1478c0" stroke-width="0.9" opacity="0.7"/><path d="M230.9,356.4 L228.9,363 L230.9,369.6" fill="none" stroke="#1478c0" stroke-width="0.9" opacity="0.7"/><path d="M236.4,355.1 L234.4,363 L236.4,370.9" fill="none" stroke="#1478c0" stroke-width="0.9" opacity="0.7"/>
<path d="M285,352 C299.56,352 304.84,345.5 317.4,345.5 L317.4,380.5 C304.84,380.5 299.56,374 285,374 Z" fill="#1a0c9e"/>
<ellipse cx="297.74" cy="363" rx="20.38" ry="8.64" fill="#0a5cc0"/><ellipse cx="296.8" cy="363" rx="18.2" ry="8" fill="#10a4c4"/><ellipse cx="295.54" cy="363" rx="15.26" ry="7" fill="#10bc90"/><ellipse cx="294.28" cy="363" rx="12.32" ry="6" fill="#1ec432"/><ellipse cx="292.54" cy="363" rx="8.27" ry="4.7" fill="#80d400"/><ellipse cx="291.61" cy="363" rx="6.09" ry="4" fill="#ece600"/><ellipse cx="291.5" cy="363" rx="3.38" ry="3.1" fill="#ff8c00"/><ellipse cx="291.5" cy="363" rx="2.6" ry="2.3" fill="#ff1800"/>
<ellipse cx="264" cy="363" rx="25" ry="27" fill="#00008c"/>
</g></g>
<rect x="211.9" y="308.8" width="103.5" height="108.5" fill="none" stroke="#1a1020" stroke-width="1"/>
<line x1="208.9" y1="308.8" x2="211.9" y2="308.8" stroke="#333" stroke-width="1"/>
<line x1="211.9" y1="417.3" x2="211.9" y2="420.3" stroke="#333" stroke-width="1"/>
<line x1="208.9" y1="335.93" x2="211.9" y2="335.93" stroke="#333" stroke-width="1"/>
<line x1="237.78" y1="417.3" x2="237.78" y2="420.3" stroke="#333" stroke-width="1"/>
<line x1="208.9" y1="363.05" x2="211.9" y2="363.05" stroke="#333" stroke-width="1"/>
<line x1="263.65" y1="417.3" x2="263.65" y2="420.3" stroke="#333" stroke-width="1"/>
<line x1="208.9" y1="390.18" x2="211.9" y2="390.18" stroke="#333" stroke-width="1"/>
<line x1="289.52" y1="417.3" x2="289.52" y2="420.3" stroke="#333" stroke-width="1"/>
<line x1="208.9" y1="417.3" x2="211.9" y2="417.3" stroke="#333" stroke-width="1"/>
<line x1="315.4" y1="417.3" x2="315.4" y2="420.3" stroke="#333" stroke-width="1"/>
<clipPath id="hm7"><rect x="365.9" y="308" width="104.5" height="109.3"/></clipPath>
<rect x="365.9" y="308" width="104.5" height="109.3" fill="#4b0078"/>
<g clip-path="url(#hm7)"><g filter="url(#bl)">
<path d="M363.9,347.66 L364.25,347.8 L364.6,347.99 L364.95,348.18 L365.3,348.32 L365.65,348.4 L366.01,348.37 L366.36,348.26 L366.71,348.09 L367.06,347.9 L367.41,347.73 L367.76,347.62 L368.11,347.6 L368.46,347.68 L368.81,347.83 L369.16,348.02 L369.52,348.21 L369.87,348.34 L370.22,348.4 L370.57,348.36 L370.92,348.24 L371.27,348.06 L371.62,347.87 L371.97,347.7 L372.32,347.61 L372.67,347.61 L373.03,347.7 L373.38,347.86 L373.73,348.06 L374.08,348.24 L374.43,348.36 L374.78,348.4 L375.13,348.34 L375.48,348.21 L375.83,348.02 L376.18,347.83 L376.53,347.68 L376.89,347.61 L377.24,347.62 L377.59,347.73 L377.94,347.9 L378.29,348.09 L378.64,348.26 L378.99,348.37 L379.34,348.4 L379.69,348.33 L380.04,348.18 L380.4,347.99 L380.75,347.8 L381.1,347.66 L381.45,347.6 L381.8,347.63 L382.15,347.75 L382.5,347.93 L382.85,348.12 L383.2,348.29 L383.55,348.39 L383.91,348.39 L384.26,348.3 L384.61,348.15 L384.96,347.95 L385.31,347.77 L385.66,347.64 L386.01,347.6 L386.36,347.65 L386.71,347.78 L387.06,347.97 L387.42,348.16 L387.77,348.31 L388.12,348.39 L388.47,348.38 L388.82,348.28 L389.17,348.11 L389.52,347.92 L389.87,347.74 L390.22,347.63 L390.57,347.6 L390.92,347.67 L391.28,347.81 L391.63,348 L391.98,348.19 L392.33,348.33 L392.68,348.4 L393.03,348.37 L393.38,348.25 L393.73,348.08 L394.08,347.89 L394.43,347.72 L394.79,347.62 L395.14,347.61 L395.49,347.69 L395.84,347.84 L396.19,348.04 L396.54,348.22 L396.89,348.35 L397.24,348.4 L397.59,348.35 L397.94,348.23 L398.3,348.04 L398.65,347.85 L399,347.69 L399.35,347.61 L399.7,347.62 L400.05,347.71 L400.05,377.49 L399.7,377.58 L399.35,377.59 L399,377.51 L398.65,377.35 L398.3,377.16 L397.94,376.97 L397.59,376.85 L397.24,376.8 L396.89,376.85 L396.54,376.98 L396.19,377.16 L395.84,377.36 L395.49,377.51 L395.14,377.59 L394.79,377.58 L394.43,377.48 L394.08,377.31 L393.73,377.12 L393.38,376.95 L393.03,376.83 L392.68,376.8 L392.33,376.87 L391.98,377.01 L391.63,377.2 L391.28,377.39 L390.92,377.53 L390.57,377.6 L390.22,377.57 L389.87,377.46 L389.52,377.28 L389.17,377.09 L388.82,376.92 L388.47,376.82 L388.12,376.81 L387.77,376.89 L387.42,377.04 L387.06,377.23 L386.71,377.42 L386.36,377.55 L386.01,377.6 L385.66,377.56 L385.31,377.43 L384.96,377.25 L384.61,377.05 L384.26,376.9 L383.91,376.81 L383.55,376.81 L383.2,376.91 L382.85,377.08 L382.5,377.27 L382.15,377.45 L381.8,377.57 L381.45,377.6 L381.1,377.54 L380.75,377.4 L380.4,377.21 L380.04,377.02 L379.69,376.87 L379.34,376.8 L378.99,376.83 L378.64,376.94 L378.29,377.11 L377.94,377.3 L377.59,377.47 L377.24,377.58 L376.89,377.59 L376.53,377.52 L376.18,377.37 L375.83,377.18 L375.48,376.99 L375.13,376.86 L374.78,376.8 L374.43,376.84 L374.08,376.96 L373.73,377.14 L373.38,377.34 L373.03,377.5 L372.67,377.59 L372.32,377.59 L371.97,377.5 L371.62,377.33 L371.27,377.14 L370.92,376.96 L370.57,376.84 L370.22,376.8 L369.87,376.86 L369.52,376.99 L369.16,377.18 L368.81,377.37 L368.46,377.52 L368.11,377.6 L367.76,377.58 L367.41,377.47 L367.06,377.3 L366.71,377.11 L366.36,376.94 L366.01,376.83 L365.65,376.8 L365.3,376.88 L364.95,377.02 L364.6,377.21 L364.25,377.4 L363.9,377.54 Z" fill="#2a0896"/>
<ellipse cx="369" cy="362.2" rx="5" ry="8.2" fill="#0c02a2"/><ellipse cx="378.5" cy="362.5" rx="1.4" ry="2.8" fill="#0c02a2"/><ellipse cx="384.2" cy="348.5" rx="3.2" ry="5.8" fill="#4b0078"/><ellipse cx="384.2" cy="376.8" rx="3.2" ry="5.8" fill="#4b0078"/><ellipse cx="390.5" cy="357.5" rx="1.5" ry="2.5" fill="#0c02a2"/><ellipse cx="390.5" cy="368" rx="1.5" ry="2.5" fill="#0c02a2"/>
<clipPath id="hm7f"><rect x="365.9" y="345.1" width="52" height="35"/></clipPath>
<ellipse clip-path="url(#hm7f)" cx="417.9" cy="362.6" rx="28.5" ry="28.2" fill="#2a0896"/>
<path d="M439.4,353.3 C454.2,353.3 459.6,353.6 472.4,353.6 L472.4,371.6 C459.6,371.6 454.2,371.9 439.4,371.9 Z" fill="#1a0c9e"/>
<ellipse cx="453.9" cy="362.6" rx="21.98" ry="7.34" fill="#0a5cc0"/><ellipse cx="453.9" cy="362.6" rx="18.5" ry="6.8" fill="#10a4c4"/><ellipse cx="453.9" cy="362.6" rx="14.75" ry="6" fill="#10bc90"/><ellipse cx="453.9" cy="362.6" rx="11" ry="5.2" fill="#1ec432"/><ellipse cx="453.9" cy="362.6" rx="7.75" ry="4.03" fill="#80d400"/><ellipse cx="453.9" cy="362.6" rx="6" ry="3.4" fill="#ece600"/><ellipse cx="453.2" cy="362.6" rx="4.94" ry="2.29" fill="#ff8c00"/><ellipse cx="453.2" cy="362.6" rx="3.8" ry="1.7" fill="#ff1800"/>
<ellipse cx="417.9" cy="362.6" rx="25.5" ry="27" fill="#00bb5a"/>
</g></g>
<rect x="365.9" y="308" width="104.5" height="109.3" fill="none" stroke="#1a1020" stroke-width="1"/>
<line x1="362.9" y1="308" x2="365.9" y2="308" stroke="#333" stroke-width="1"/>
<line x1="365.9" y1="417.3" x2="365.9" y2="420.3" stroke="#333" stroke-width="1"/>
<line x1="362.9" y1="335.32" x2="365.9" y2="335.32" stroke="#333" stroke-width="1"/>
<line x1="392.02" y1="417.3" x2="392.02" y2="420.3" stroke="#333" stroke-width="1"/>
<line x1="362.9" y1="362.65" x2="365.9" y2="362.65" stroke="#333" stroke-width="1"/>
<line x1="418.15" y1="417.3" x2="418.15" y2="420.3" stroke="#333" stroke-width="1"/>
<line x1="362.9" y1="389.98" x2="365.9" y2="389.98" stroke="#333" stroke-width="1"/>
<line x1="444.27" y1="417.3" x2="444.27" y2="420.3" stroke="#333" stroke-width="1"/>
<line x1="362.9" y1="417.3" x2="365.9" y2="417.3" stroke="#333" stroke-width="1"/>
<line x1="470.4" y1="417.3" x2="470.4" y2="420.3" stroke="#333" stroke-width="1"/>
<clipPath id="hm8"><rect x="526.3" y="309" width="104.3" height="108"/></clipPath>
<rect x="526.3" y="309" width="104.3" height="108" fill="#4b0078"/>
<g clip-path="url(#hm8)"><g filter="url(#bl)">
<path d="M524.3,347.82 L524.65,347.81 L525,347.89 L525.35,348.05 L525.7,348.24 L526.05,348.43 L526.41,348.55 L526.76,348.6 L527.11,348.55 L527.46,348.42 L527.81,348.24 L528.16,348.05 L528.51,347.89 L528.86,347.81 L529.21,347.82 L529.56,347.92 L529.91,348.08 L530.26,348.28 L530.62,348.45 L530.97,348.57 L531.32,348.6 L531.67,348.53 L532.02,348.39 L532.37,348.2 L532.72,348.01 L533.07,347.87 L533.42,347.8 L533.77,347.83 L534.12,347.94 L534.48,348.12 L534.83,348.31 L535.18,348.48 L535.53,348.58 L535.88,348.59 L536.23,348.51 L536.58,348.36 L536.93,348.17 L537.28,347.98 L537.63,347.85 L537.98,347.8 L538.33,347.84 L538.69,347.97 L539.04,348.15 L539.39,348.34 L539.74,348.5 L540.09,348.59 L540.44,348.59 L540.79,348.49 L541.14,348.33 L541.49,348.13 L541.84,347.96 L542.19,347.84 L542.55,347.8 L542.9,347.86 L543.25,348 L543.6,348.18 L543.95,348.37 L544.3,348.52 L544.65,348.6 L545,348.58 L545.35,348.47 L545.7,348.29 L546.05,348.1 L546.41,347.93 L546.76,347.82 L547.11,347.8 L547.46,347.88 L547.81,348.03 L548.16,348.22 L548.51,348.4 L548.86,348.54 L549.21,348.6 L549.56,348.56 L549.91,348.44 L550.26,348.26 L550.62,348.07 L550.97,347.91 L551.32,347.81 L551.67,347.81 L552.02,347.9 L552.37,348.06 L552.72,348.25 L553.07,348.43 L553.42,348.56 L553.77,348.6 L554.12,348.55 L554.48,348.41 L554.83,348.23 L555.18,348.04 L555.53,347.88 L555.88,347.81 L556.23,347.82 L556.58,347.92 L556.93,348.09 L557.28,348.29 L557.63,348.46 L557.98,348.57 L558.33,348.6 L558.69,348.53 L559.04,348.38 L559.39,348.19 L559.74,348.01 L560.09,347.86 L560.44,347.8 L560.44,378.6 L560.09,378.54 L559.74,378.39 L559.39,378.21 L559.04,378.02 L558.69,377.87 L558.33,377.8 L557.98,377.83 L557.63,377.94 L557.28,378.11 L556.93,378.31 L556.58,378.48 L556.23,378.58 L555.88,378.59 L555.53,378.52 L555.18,378.36 L554.83,378.17 L554.48,377.99 L554.12,377.85 L553.77,377.8 L553.42,377.84 L553.07,377.97 L552.72,378.15 L552.37,378.34 L552.02,378.5 L551.67,378.59 L551.32,378.59 L550.97,378.49 L550.62,378.33 L550.26,378.14 L549.91,377.96 L549.56,377.84 L549.21,377.8 L548.86,377.86 L548.51,378 L548.16,378.18 L547.81,378.37 L547.46,378.52 L547.11,378.6 L546.76,378.58 L546.41,378.47 L546.05,378.3 L545.7,378.11 L545.35,377.93 L545,377.82 L544.65,377.8 L544.3,377.88 L543.95,378.03 L543.6,378.22 L543.25,378.4 L542.9,378.54 L542.55,378.6 L542.19,378.56 L541.84,378.44 L541.49,378.27 L541.14,378.07 L540.79,377.91 L540.44,377.81 L540.09,377.81 L539.74,377.9 L539.39,378.06 L539.04,378.25 L538.69,378.43 L538.33,378.56 L537.98,378.6 L537.63,378.55 L537.28,378.42 L536.93,378.23 L536.58,378.04 L536.23,377.89 L535.88,377.81 L535.53,377.82 L535.18,377.92 L534.83,378.09 L534.48,378.28 L534.12,378.46 L533.77,378.57 L533.42,378.6 L533.07,378.53 L532.72,378.39 L532.37,378.2 L532.02,378.01 L531.67,377.87 L531.32,377.8 L530.97,377.83 L530.62,377.95 L530.26,378.12 L529.91,378.32 L529.56,378.48 L529.21,378.58 L528.86,378.59 L528.51,378.51 L528.16,378.35 L527.81,378.16 L527.46,377.98 L527.11,377.85 L526.76,377.8 L526.41,377.85 L526.05,377.97 L525.7,378.16 L525.35,378.35 L525,378.51 L524.65,378.59 L524.3,378.58 Z" fill="#2a0896"/>
<ellipse cx="529" cy="363.2" rx="6" ry="7.6" fill="#0c02a2"/><ellipse cx="538.5" cy="363.2" rx="1.2" ry="2.2" fill="#0c02a2"/><ellipse cx="546" cy="349.5" rx="2" ry="3" fill="#4b0078"/><ellipse cx="546" cy="377" rx="2" ry="3" fill="#4b0078"/>
<clipPath id="hm8f"><rect x="526.3" y="345.7" width="52.2" height="35"/></clipPath>
<ellipse clip-path="url(#hm8f)" cx="578.5" cy="363.2" rx="28.8" ry="27.8" fill="#2a0896"/>
<path d="M600.3,352.7 C614.82,352.7 620.08,353.2 632.6,353.2 L632.6,373.2 C620.08,373.2 614.82,373.7 600.3,373.7 Z" fill="#1a0c9e"/>
<ellipse cx="613.8" cy="363.2" rx="21.86" ry="6.8" fill="#0a5cc0"/><ellipse cx="613.8" cy="363.2" rx="18.5" ry="6.3" fill="#10a4c4"/><ellipse cx="613.8" cy="363.2" rx="15" ry="5.75" fill="#10bc90"/><ellipse cx="613.8" cy="363.2" rx="11.5" ry="5.2" fill="#1ec432"/><ellipse cx="613.8" cy="363.2" rx="8.25" ry="4.03" fill="#80d400"/><ellipse cx="613.8" cy="363.2" rx="6.5" ry="3.4" fill="#ece600"/><ellipse cx="613.1" cy="363.2" rx="5.46" ry="2.56" fill="#ff8c00"/><ellipse cx="613.1" cy="363.2" rx="4.2" ry="1.9" fill="#ff1800"/>
<ellipse cx="578.5" cy="363.2" rx="25.8" ry="26.6" fill="#00bb5a"/>
</g></g>
<rect x="526.3" y="309" width="104.3" height="108" fill="none" stroke="#1a1020" stroke-width="1"/>
<line x1="523.3" y1="309" x2="526.3" y2="309" stroke="#333" stroke-width="1"/>
<line x1="526.3" y1="417" x2="526.3" y2="420" stroke="#333" stroke-width="1"/>
<line x1="523.3" y1="336" x2="526.3" y2="336" stroke="#333" stroke-width="1"/>
<line x1="552.38" y1="417" x2="552.38" y2="420" stroke="#333" stroke-width="1"/>
<line x1="523.3" y1="363" x2="526.3" y2="363" stroke="#333" stroke-width="1"/>
<line x1="578.45" y1="417" x2="578.45" y2="420" stroke="#333" stroke-width="1"/>
<line x1="523.3" y1="390" x2="526.3" y2="390" stroke="#333" stroke-width="1"/>
<line x1="604.52" y1="417" x2="604.52" y2="420" stroke="#333" stroke-width="1"/>
<line x1="523.3" y1="417" x2="526.3" y2="417" stroke="#333" stroke-width="1"/>
<line x1="630.6" y1="417" x2="630.6" y2="420" stroke="#333" stroke-width="1"/>
<line x1="526.5" y1="401" x2="630.5" y2="401" stroke="#e4dcee" stroke-width="0.7" stroke-dasharray="1.3 0.7"/>
<rect x="175" y="312" width="20.6" height="102" fill="url(#jet)"/>
<line x1="175" y1="312.4" x2="195.6" y2="312.4" stroke="#b00000" stroke-width="0.9"/>
<text x="173.4" y="316" font-family='"Liberation Sans", sans-serif' font-weight="bold" font-size="10" fill="#1a1a1a" text-anchor="end">0.86</text>
<text x="173.4" y="363" font-family='"Liberation Sans", sans-serif' font-weight="bold" font-size="10" fill="#1a1a1a" text-anchor="end">0.43</text>
<text x="169.6" y="416.5" font-family='"Liberation Sans", sans-serif' font-weight="bold" font-size="10" fill="#1a1a1a" text-anchor="end">0</text>
<rect x="497.2" y="309" width="20.4" height="104.6" fill="url(#jet)"/>
<line x1="497.2" y1="309.4" x2="517.6" y2="309.4" stroke="#b00000" stroke-width="0.9"/>
<text x="494" y="314" font-family='"Liberation Sans", sans-serif' font-weight="bold" font-size="10" fill="#1a1a1a" text-anchor="end">1.34</text>
<text x="494" y="362" font-family='"Liberation Sans", sans-serif' font-weight="bold" font-size="10" fill="#1a1a1a" text-anchor="end">0.67</text>
<text x="490.6" y="413.5" font-family='"Liberation Sans", sans-serif' font-weight="bold" font-size="10" fill="#1a1a1a" text-anchor="end">0</text>
<text transform="translate(92.4,301.5) scale(0.92,1)" x="0" y="0" font-family='"Liberation Sans", sans-serif' font-size="20.5" fill="#111" text-anchor="middle">(c)</text>
<text transform="translate(270.9,301) scale(0.92,1)" x="0" y="0" font-family='"Liberation Sans", sans-serif' font-size="20.5" fill="#111" text-anchor="middle">(c’)</text>
<text transform="translate(429.6,299.6) scale(0.92,1)" x="0" y="0" font-family='"Liberation Sans", sans-serif' font-size="20.5" fill="#111" text-anchor="middle">(d)</text>
<text transform="translate(578.5,299.5) scale(0.92,1)" x="0" y="0" font-family='"Liberation Sans", sans-serif' font-size="20.5" fill="#111" text-anchor="middle">(d’)</text>
<clipPath id="hm9"><rect x="190.3" y="596" width="116.5" height="114.9"/></clipPath>
<rect x="190.3" y="596" width="116.5" height="114.9" fill="#4b0078"/>
<g clip-path="url(#hm9)"><g filter="url(#bl)">
<path d="M273.2,647.8 C289.04,647.8 294.96,649.2 308.8,649.2 L308.8,657.6 C294.96,657.6 289.04,659 273.2,659 Z" fill="#1a0c9e"/>
<ellipse cx="284.73" cy="653.4" rx="17.56" ry="4.1" fill="#0a5cc0"/><ellipse cx="283.92" cy="653.4" rx="15.68" ry="3.8" fill="#10a4c4"/><ellipse cx="282.44" cy="653.4" rx="12.21" ry="3.5" fill="#10bc90"/><ellipse cx="280.95" cy="653.4" rx="8.75" ry="3.2" fill="#1ec432"/><ellipse cx="279.8" cy="653.4" rx="6.07" ry="2.75" fill="#80d400"/><ellipse cx="279.18" cy="653.4" rx="4.62" ry="2.5" fill="#ece600"/><ellipse cx="279.2" cy="653.4" rx="2.86" ry="1.35" fill="#ff8c00"/><ellipse cx="279.2" cy="653.4" rx="2.2" ry="1" fill="#ff1800"/>
<ellipse cx="248.2" cy="653.4" rx="29" ry="28.3" fill="#0063a0"/>
</g></g>
<rect x="190.3" y="596" width="116.5" height="114.9" fill="none" stroke="#1a1020" stroke-width="1"/>
<line x1="187.3" y1="596" x2="190.3" y2="596" stroke="#333" stroke-width="1"/>
<line x1="190.3" y1="710.9" x2="190.3" y2="713.9" stroke="#333" stroke-width="1"/>
<line x1="187.3" y1="624.73" x2="190.3" y2="624.73" stroke="#333" stroke-width="1"/>
<line x1="219.43" y1="710.9" x2="219.43" y2="713.9" stroke="#333" stroke-width="1"/>
<line x1="187.3" y1="653.45" x2="190.3" y2="653.45" stroke="#333" stroke-width="1"/>
<line x1="248.55" y1="710.9" x2="248.55" y2="713.9" stroke="#333" stroke-width="1"/>
<line x1="187.3" y1="682.17" x2="190.3" y2="682.17" stroke="#333" stroke-width="1"/>
<line x1="277.68" y1="710.9" x2="277.68" y2="713.9" stroke="#333" stroke-width="1"/>
<line x1="187.3" y1="710.9" x2="190.3" y2="710.9" stroke="#333" stroke-width="1"/>
<line x1="306.8" y1="710.9" x2="306.8" y2="713.9" stroke="#333" stroke-width="1"/>
<clipPath id="hm10"><rect x="371" y="598" width="116.2" height="114"/></clipPath>
<rect x="371" y="598" width="116.2" height="114" fill="#4b0078"/>
<g clip-path="url(#hm10)"><g filter="url(#bl)">
<path d="M453.5,648.2 C469.38,648.2 475.32,649.9 489.2,649.9 L489.2,661.1 C475.32,661.1 469.38,662.8 453.5,662.8 Z" fill="#1a0c9e"/>
<ellipse cx="465.13" cy="655.5" rx="17.8" ry="5.83" fill="#0a5cc0"/><ellipse cx="464.31" cy="655.5" rx="15.89" ry="5.4" fill="#10a4c4"/><ellipse cx="462.74" cy="655.5" rx="12.21" ry="4.95" fill="#10bc90"/><ellipse cx="461.16" cy="655.5" rx="8.54" ry="4.5" fill="#1ec432"/><ellipse cx="460.01" cy="655.5" rx="5.86" ry="3.85" fill="#80d400"/><ellipse cx="459.39" cy="655.5" rx="4.41" ry="3.5" fill="#ece600"/><ellipse cx="457.5" cy="655.5" rx="5.98" ry="4.86" fill="#ff8c00"/><ellipse cx="457.5" cy="655.5" rx="4.6" ry="3.6" fill="#ff1800"/>
<ellipse cx="429" cy="655.5" rx="28.5" ry="28.6" fill="#002e96"/>
</g></g>
<rect x="371" y="598" width="116.2" height="114" fill="none" stroke="#1a1020" stroke-width="1"/>
<line x1="368" y1="598" x2="371" y2="598" stroke="#333" stroke-width="1"/>
<line x1="371" y1="712" x2="371" y2="715" stroke="#333" stroke-width="1"/>
<line x1="368" y1="626.5" x2="371" y2="626.5" stroke="#333" stroke-width="1"/>
<line x1="400.05" y1="712" x2="400.05" y2="715" stroke="#333" stroke-width="1"/>
<line x1="368" y1="655" x2="371" y2="655" stroke="#333" stroke-width="1"/>
<line x1="429.1" y1="712" x2="429.1" y2="715" stroke="#333" stroke-width="1"/>
<line x1="368" y1="683.5" x2="371" y2="683.5" stroke="#333" stroke-width="1"/>
<line x1="458.15" y1="712" x2="458.15" y2="715" stroke="#333" stroke-width="1"/>
<line x1="368" y1="712" x2="371" y2="712" stroke="#333" stroke-width="1"/>
<line x1="487.2" y1="712" x2="487.2" y2="715" stroke="#333" stroke-width="1"/>
<rect x="329.6" y="599.7" width="24.1" height="106.8" fill="url(#jet)"/>
<line x1="329.6" y1="600.1" x2="353.7" y2="600.1" stroke="#b00000" stroke-width="0.9"/>
<text x="326.8" y="604.7" font-family='"Liberation Sans", sans-serif' font-weight="bold" font-size="10" fill="#1a1a1a" text-anchor="end">70</text>
<text x="326.8" y="652" font-family='"Liberation Sans", sans-serif' font-weight="bold" font-size="10" fill="#1a1a1a" text-anchor="end">35</text>
<text x="325.5" y="707.5" font-family='"Liberation Sans", sans-serif' font-weight="bold" font-size="10" fill="#1a1a1a" text-anchor="end">0</text>
<text transform="translate(260,586.8) scale(1.0,1)" x="0" y="0" font-family='"Liberation Sans", sans-serif' font-size="22" fill="#111" text-anchor="middle">(e)</text>
<text transform="translate(431,587) scale(1.0,1)" x="0" y="0" font-family='"Liberation Sans", sans-serif' font-size="22" fill="#111" text-anchor="middle">(e’)</text>
<rect x="33.5" y="150.6" width="104.3" height="83.7" fill="none" stroke="#3a3a3a" stroke-width="1.1"/>
<line x1="33.5" y1="192.45" x2="38.5" y2="192.45" stroke="#3a3a3a" stroke-width="1.1"/>
<line x1="137.8" y1="192.45" x2="132.8" y2="192.45" stroke="#3a3a3a" stroke-width="1.1"/>
<line x1="85.65" y1="150.6" x2="85.65" y2="155.6" stroke="#3a3a3a" stroke-width="1.1"/>
<line x1="85.65" y1="234.3" x2="85.65" y2="229.3" stroke="#3a3a3a" stroke-width="1.1"/>
<text x="29.9" y="155" font-family='"Liberation Serif", serif' font-size="9.4" fill="#22180e" stroke="#22180e" stroke-width="0.12" text-anchor="end">10</text>
<text x="29.9" y="196.85" font-family='"Liberation Serif", serif' font-size="9.4" fill="#22180e" stroke="#22180e" stroke-width="0.12" text-anchor="end">5</text>
<text x="29.9" y="238.7" font-family='"Liberation Serif", serif' font-size="9.4" fill="#22180e" stroke="#22180e" stroke-width="0.12" text-anchor="end">0</text>
<text x="34.8" y="245.1" font-family='"Liberation Serif", serif' font-size="9.4" fill="#22180e" stroke="#22180e" stroke-width="0.12" text-anchor="middle">1</text>
<text x="86.95" y="245.1" font-family='"Liberation Serif", serif' font-size="9.4" fill="#22180e" stroke="#22180e" stroke-width="0.12" text-anchor="middle">1.5</text>
<text x="139.1" y="245.1" font-family='"Liberation Serif", serif' font-size="9.4" fill="#22180e" stroke="#22180e" stroke-width="0.12" text-anchor="middle">2</text>
<path d="M33.5,170.8 C34.08,169.77 35.83,166.07 37,164.6 C38.17,163.13 39.18,162.52 40.5,162 C41.82,161.48 43.43,161.35 44.9,161.5 C46.37,161.65 47.4,161.78 49.3,162.9 C51.2,164.02 53.68,165.85 56.3,168.2 C58.92,170.55 62.08,174.08 65,177 C67.92,179.92 70.87,182.78 73.8,185.7 C76.73,188.62 79.68,191.87 82.6,194.5 C85.52,197.13 88.4,199.47 91.3,201.5 C94.2,203.53 97.07,205.1 100,206.7 C102.93,208.3 105.97,209.83 108.9,211.1 C111.83,212.37 114.68,213.33 117.6,214.3 C120.52,215.27 123.03,216.03 126.4,216.9 C129.77,217.77 135.9,219.07 137.8,219.5" fill="none" stroke="#000" stroke-width="2.5" stroke-linejoin="round"/>
<path d="M33.5,200.2 C34.38,199.83 36.47,198.53 38.8,198 C41.13,197.47 44.58,196.87 47.5,197 C50.42,197.13 53.38,197.92 56.3,198.8 C59.22,199.68 62.08,201.03 65,202.3 C67.92,203.57 70.87,205.08 73.8,206.4 C76.73,207.72 79.68,208.98 82.6,210.2 C85.52,211.42 88.4,212.67 91.3,213.7 C94.2,214.73 97.07,215.58 100,216.4 C102.93,217.22 105.97,217.93 108.9,218.6 C111.83,219.27 114.68,219.83 117.6,220.4 C120.52,220.97 123.03,221.45 126.4,222 C129.77,222.55 135.9,223.42 137.8,223.7" fill="none" stroke="#000" stroke-width="2.7" stroke-linecap="round" stroke-dasharray="0.01 4.6"/>
<rect x="199.4" y="150.6" width="104.9" height="83.5" fill="none" stroke="#3a3a3a" stroke-width="1.1"/>
<line x1="199.4" y1="192.35" x2="204.4" y2="192.35" stroke="#3a3a3a" stroke-width="1.1"/>
<line x1="304.3" y1="192.35" x2="299.3" y2="192.35" stroke="#3a3a3a" stroke-width="1.1"/>
<line x1="251.85" y1="150.6" x2="251.85" y2="155.6" stroke="#3a3a3a" stroke-width="1.1"/>
<line x1="251.85" y1="234.1" x2="251.85" y2="229.1" stroke="#3a3a3a" stroke-width="1.1"/>
<text x="195.8" y="155" font-family='"Liberation Serif", serif' font-size="9.4" fill="#22180e" stroke="#22180e" stroke-width="0.12" text-anchor="end">10</text>
<text x="195.8" y="196.75" font-family='"Liberation Serif", serif' font-size="9.4" fill="#22180e" stroke="#22180e" stroke-width="0.12" text-anchor="end">5</text>
<text x="195.8" y="238.5" font-family='"Liberation Serif", serif' font-size="9.4" fill="#22180e" stroke="#22180e" stroke-width="0.12" text-anchor="end">0</text>
<text x="200.7" y="244.9" font-family='"Liberation Serif", serif' font-size="9.4" fill="#22180e" stroke="#22180e" stroke-width="0.12" text-anchor="middle">1</text>
<text x="253.15" y="244.9" font-family='"Liberation Serif", serif' font-size="9.4" fill="#22180e" stroke="#22180e" stroke-width="0.12" text-anchor="middle">1.5</text>
<text x="305.6" y="244.9" font-family='"Liberation Serif", serif' font-size="9.4" fill="#22180e" stroke="#22180e" stroke-width="0.12" text-anchor="middle">2</text>
<path d="M199.4,170.8 C200,169.77 201.82,166.07 203,164.6 C204.18,163.13 205.18,162.52 206.5,162 C207.82,161.48 209.43,161.35 210.9,161.5 C212.37,161.65 213.4,161.7 215.3,162.9 C217.2,164.1 219.68,166.27 222.3,168.7 C224.92,171.13 228.08,174.58 231,177.5 C233.92,180.42 236.87,183.45 239.8,186.2 C242.73,188.95 245.68,191.52 248.6,194 C251.52,196.48 254.4,199.02 257.3,201.1 C260.2,203.18 263.07,204.88 266,206.5 C268.93,208.12 271.97,209.55 274.9,210.8 C277.83,212.05 280.68,213.07 283.6,214 C286.52,214.93 288.95,215.48 292.4,216.4 C295.85,217.32 302.32,218.98 304.3,219.5" fill="none" stroke="#000" stroke-width="2.5" stroke-linejoin="round"/>
<path d="M199.4,192.7 C200.5,193.12 203.65,194.32 206,195.2 C208.35,196.08 210.83,196.95 213.5,198 C216.17,199.05 219.08,200.33 222,201.5 C224.92,202.67 228,203.82 231,205 C234,206.18 237.07,207.43 240,208.6 C242.93,209.77 245.77,210.97 248.6,212 C251.43,213.03 254.1,213.93 257,214.8 C259.9,215.67 263,216.42 266,217.2 C269,217.98 272.07,218.77 275,219.5 C277.93,220.23 280.6,220.92 283.6,221.6 C286.6,222.28 289.55,222.87 293,223.6 C296.45,224.33 302.42,225.6 304.3,226" fill="none" stroke="#000" stroke-width="2.7" stroke-linecap="round" stroke-dasharray="0.01 4.6"/>
<rect x="357.2" y="150.1" width="104.1" height="82.8" fill="none" stroke="#3a3a3a" stroke-width="1.1"/>
<line x1="357.2" y1="191.5" x2="362.2" y2="191.5" stroke="#3a3a3a" stroke-width="1.1"/>
<line x1="461.3" y1="191.5" x2="456.3" y2="191.5" stroke="#3a3a3a" stroke-width="1.1"/>
<line x1="409.25" y1="150.1" x2="409.25" y2="155.1" stroke="#3a3a3a" stroke-width="1.1"/>
<line x1="409.25" y1="232.9" x2="409.25" y2="227.9" stroke="#3a3a3a" stroke-width="1.1"/>
<text x="353.6" y="154.5" font-family='"Liberation Serif", serif' font-size="9.4" fill="#22180e" stroke="#22180e" stroke-width="0.12" text-anchor="end">10</text>
<text x="353.6" y="195.9" font-family='"Liberation Serif", serif' font-size="9.4" fill="#22180e" stroke="#22180e" stroke-width="0.12" text-anchor="end">5</text>
<text x="353.6" y="237.3" font-family='"Liberation Serif", serif' font-size="9.4" fill="#22180e" stroke="#22180e" stroke-width="0.12" text-anchor="end">0</text>
<text x="358.5" y="243.6" font-family='"Liberation Serif", serif' font-size="9.4" fill="#22180e" stroke="#22180e" stroke-width="0.12" text-anchor="middle">1</text>
<text x="410.55" y="243.6" font-family='"Liberation Serif", serif' font-size="9.4" fill="#22180e" stroke="#22180e" stroke-width="0.12" text-anchor="middle">1.5</text>
<text x="462.6" y="243.6" font-family='"Liberation Serif", serif' font-size="9.4" fill="#22180e" stroke="#22180e" stroke-width="0.12" text-anchor="middle">2</text>
<line x1="382" y1="150.1" x2="382" y2="232.9" stroke="#222" stroke-width="1" stroke-dasharray="2 2"/>
<line x1="357.2" y1="199.9" x2="461.3" y2="199.9" stroke="#222" stroke-width="1" stroke-dasharray="2 2"/>
<path d="M357.2,198.8 C357.55,197.05 358.37,191.8 359.3,188.3 C360.23,184.8 361.35,180.87 362.8,177.8 C364.25,174.73 365.97,171.87 368,169.9 C370.03,167.93 372.67,166.73 375,166 C377.33,165.27 379.67,165.28 382,165.5 C384.33,165.72 386.37,166.13 389,167.3 C391.63,168.47 394.87,170.47 397.8,172.5 C400.73,174.53 403.68,177.15 406.6,179.5 C409.52,181.85 412.4,184.4 415.3,186.6 C418.2,188.8 421.07,190.8 424,192.7 C426.93,194.6 429.97,196.4 432.9,198 C435.83,199.6 438.68,200.85 441.6,202.3 C444.52,203.75 447.12,205.23 450.4,206.7 C453.68,208.17 459.48,210.37 461.3,211.1" fill="none" stroke="#000" stroke-width="2.5" stroke-linejoin="round"/>
<path d="M357.2,213.2 C357.83,212.42 359.2,210.17 361,208.5 C362.8,206.83 365.67,204.58 368,203.2 C370.33,201.82 372.5,200.93 375,200.2 C377.5,199.47 380.67,198.88 383,198.8 C385.33,198.72 386.53,199.12 389,199.7 C391.47,200.28 394.87,201.28 397.8,202.3 C400.73,203.32 403.68,204.77 406.6,205.8 C409.52,206.83 412.4,207.62 415.3,208.5 C418.2,209.38 421.07,210.23 424,211.1 C426.93,211.97 429.97,212.88 432.9,213.7 C435.83,214.52 438.68,215.32 441.6,216 C444.52,216.68 447.12,217.15 450.4,217.8 C453.68,218.45 459.48,219.55 461.3,219.9" fill="none" stroke="#000" stroke-width="2.7" stroke-linecap="round" stroke-dasharray="0.01 4.6"/>
<rect x="510" y="150.1" width="103.8" height="82.7" fill="none" stroke="#3a3a3a" stroke-width="1.1"/>
<line x1="510" y1="191.45" x2="515" y2="191.45" stroke="#3a3a3a" stroke-width="1.1"/>
<line x1="613.8" y1="191.45" x2="608.8" y2="191.45" stroke="#3a3a3a" stroke-width="1.1"/>
<line x1="561.9" y1="150.1" x2="561.9" y2="155.1" stroke="#3a3a3a" stroke-width="1.1"/>
<line x1="561.9" y1="232.8" x2="561.9" y2="227.8" stroke="#3a3a3a" stroke-width="1.1"/>
<text x="506.4" y="154.5" font-family='"Liberation Serif", serif' font-size="9.4" fill="#22180e" stroke="#22180e" stroke-width="0.12" text-anchor="end">10</text>
<text x="506.4" y="195.85" font-family='"Liberation Serif", serif' font-size="9.4" fill="#22180e" stroke="#22180e" stroke-width="0.12" text-anchor="end">5</text>
<text x="506.4" y="237.2" font-family='"Liberation Serif", serif' font-size="9.4" fill="#22180e" stroke="#22180e" stroke-width="0.12" text-anchor="end">0</text>
<text x="511.3" y="243.6" font-family='"Liberation Serif", serif' font-size="9.4" fill="#22180e" stroke="#22180e" stroke-width="0.12" text-anchor="middle">1</text>
<text x="563.2" y="243.6" font-family='"Liberation Serif", serif' font-size="9.4" fill="#22180e" stroke="#22180e" stroke-width="0.12" text-anchor="middle">1.5</text>
<text x="615.1" y="243.6" font-family='"Liberation Serif", serif' font-size="9.4" fill="#22180e" stroke="#22180e" stroke-width="0.12" text-anchor="middle">2</text>
<line x1="530.7" y1="150.1" x2="530.7" y2="232.8" stroke="#222" stroke-width="1" stroke-dasharray="2 2"/>
<line x1="510" y1="200.2" x2="613.8" y2="200.2" stroke="#222" stroke-width="1" stroke-dasharray="2 2"/>
<path d="M510,198.8 C510.35,197.33 511.02,193.35 512.1,190 C513.18,186.65 514.88,181.9 516.5,178.7 C518.12,175.5 520.05,172.85 521.8,170.8 C523.55,168.75 525.25,167.28 527,166.4 C528.75,165.52 530.25,165.5 532.3,165.5 C534.35,165.5 536.38,165.37 539.3,166.4 C542.22,167.43 546.58,169.8 549.8,171.7 C553.02,173.6 555.68,175.77 558.6,177.8 C561.52,179.83 564.38,181.87 567.3,183.9 C570.22,185.93 573.17,187.95 576.1,190 C579.03,192.05 581.98,194.28 584.9,196.2 C587.82,198.12 590.68,199.83 593.6,201.5 C596.52,203.17 599.03,204.6 602.4,206.2 C605.77,207.8 611.9,210.28 613.8,211.1" fill="none" stroke="#000" stroke-width="2.5" stroke-linejoin="round"/>
<path d="M510,195 C511.67,195.2 516.58,195.57 520,196.2 C523.42,196.83 527,197.63 530.5,198.8 C534,199.97 537.78,201.88 541,203.2 C544.22,204.52 546.87,205.53 549.8,206.7 C552.73,207.87 555.68,209.03 558.6,210.2 C561.52,211.37 564.38,212.67 567.3,213.7 C570.22,214.73 573.17,215.58 576.1,216.4 C579.03,217.22 581.98,217.93 584.9,218.6 C587.82,219.27 590.68,219.9 593.6,220.4 C596.52,220.9 599.03,221.1 602.4,221.6 C605.77,222.1 611.9,223.1 613.8,223.4" fill="none" stroke="#000" stroke-width="2.7" stroke-linecap="round" stroke-dasharray="0.01 4.6"/>
<rect x="42" y="435.8" width="103.6" height="82" fill="none" stroke="#3a3a3a" stroke-width="1.1"/>
<line x1="42" y1="476.8" x2="47" y2="476.8" stroke="#3a3a3a" stroke-width="1.1"/>
<line x1="145.6" y1="476.8" x2="140.6" y2="476.8" stroke="#3a3a3a" stroke-width="1.1"/>
<line x1="93.8" y1="435.8" x2="93.8" y2="440.8" stroke="#3a3a3a" stroke-width="1.1"/>
<line x1="93.8" y1="517.8" x2="93.8" y2="512.8" stroke="#3a3a3a" stroke-width="1.1"/>
<text x="38.4" y="440.2" font-family='"Liberation Serif", serif' font-size="9.4" fill="#22180e" stroke="#22180e" stroke-width="0.12" text-anchor="end">1</text>
<text x="38.4" y="481.2" font-family='"Liberation Serif", serif' font-size="9.4" fill="#22180e" stroke="#22180e" stroke-width="0.12" text-anchor="end">0.5</text>
<text x="38.4" y="522.2" font-family='"Liberation Serif", serif' font-size="9.4" fill="#22180e" stroke="#22180e" stroke-width="0.12" text-anchor="end">0</text>
<text x="43.3" y="528.6" font-family='"Liberation Serif", serif' font-size="9.4" fill="#22180e" stroke="#22180e" stroke-width="0.12" text-anchor="middle">1</text>
<text x="95.1" y="528.6" font-family='"Liberation Serif", serif' font-size="9.4" fill="#22180e" stroke="#22180e" stroke-width="0.12" text-anchor="middle">1.5</text>
<text x="146.9" y="528.6" font-family='"Liberation Serif", serif' font-size="9.4" fill="#22180e" stroke="#22180e" stroke-width="0.12" text-anchor="middle">2</text>
<path d="M42,447.7 C43.08,448.4 46.02,450.22 48.5,451.9 C50.98,453.58 54.08,455.83 56.9,457.8 C59.72,459.77 62.58,461.87 65.4,463.7 C68.22,465.53 70.98,467.17 73.8,468.8 C76.62,470.43 79.48,471.95 82.3,473.5 C85.12,475.05 87.88,476.63 90.7,478.1 C93.52,479.57 96.38,481.03 99.2,482.3 C102.02,483.57 104.78,484.57 107.6,485.7 C110.42,486.83 113.28,487.97 116.1,489.1 C118.92,490.23 121.68,491.52 124.5,492.5 C127.32,493.48 129.48,494.02 133,495 C136.52,495.98 143.5,497.83 145.6,498.4" fill="none" stroke="#000" stroke-width="2.5" stroke-linejoin="round"/>
<path d="M42,482.3 C43.08,482.87 46.02,484.57 48.5,485.7 C50.98,486.83 54.08,487.97 56.9,489.1 C59.72,490.23 62.58,491.52 65.4,492.5 C68.22,493.48 70.98,494.17 73.8,495 C76.62,495.83 79.48,496.73 82.3,497.5 C85.12,498.27 87.88,498.88 90.7,499.6 C93.52,500.32 96.38,501.17 99.2,501.8 C102.02,502.43 104.78,502.9 107.6,503.4 C110.42,503.9 113.28,504.37 116.1,504.8 C118.92,505.23 121.68,505.6 124.5,506 C127.32,506.4 129.48,506.78 133,507.2 C136.52,507.62 143.5,508.28 145.6,508.5" fill="none" stroke="#000" stroke-width="2.7" stroke-linecap="round" stroke-dasharray="0.01 4.6"/>
<rect x="213" y="438.4" width="104.5" height="82.3" fill="none" stroke="#3a3a3a" stroke-width="1.1"/>
<line x1="213" y1="479.55" x2="218" y2="479.55" stroke="#3a3a3a" stroke-width="1.1"/>
<line x1="317.5" y1="479.55" x2="312.5" y2="479.55" stroke="#3a3a3a" stroke-width="1.1"/>
<line x1="265.25" y1="438.4" x2="265.25" y2="443.4" stroke="#3a3a3a" stroke-width="1.1"/>
<line x1="265.25" y1="520.7" x2="265.25" y2="515.7" stroke="#3a3a3a" stroke-width="1.1"/>
<text x="209.4" y="442.8" font-family='"Liberation Serif", serif' font-size="9.4" fill="#22180e" stroke="#22180e" stroke-width="0.12" text-anchor="end">1</text>
<text x="209.4" y="483.95" font-family='"Liberation Serif", serif' font-size="9.4" fill="#22180e" stroke="#22180e" stroke-width="0.12" text-anchor="end">0.5</text>
<text x="209.4" y="525.1" font-family='"Liberation Serif", serif' font-size="9.4" fill="#22180e" stroke="#22180e" stroke-width="0.12" text-anchor="end">0</text>
<text x="214.3" y="530.9" font-family='"Liberation Serif", serif' font-size="9.4" fill="#22180e" stroke="#22180e" stroke-width="0.12" text-anchor="middle">1</text>
<text x="266.55" y="530.9" font-family='"Liberation Serif", serif' font-size="9.4" fill="#22180e" stroke="#22180e" stroke-width="0.12" text-anchor="middle">1.5</text>
<text x="318.8" y="530.9" font-family='"Liberation Serif", serif' font-size="9.4" fill="#22180e" stroke="#22180e" stroke-width="0.12" text-anchor="middle">2</text>
<path d="M213,450.5 C213.92,451.2 216.18,452.87 218.5,454.7 C220.82,456.53 224.08,459.38 226.9,461.5 C229.72,463.62 232.58,465.52 235.4,467.4 C238.22,469.28 240.98,471.1 243.8,472.8 C246.62,474.5 249.48,476.02 252.3,477.6 C255.12,479.18 257.88,480.85 260.7,482.3 C263.52,483.75 266.38,485.07 269.2,486.3 C272.02,487.53 274.78,488.57 277.6,489.7 C280.42,490.83 283.28,492.02 286.1,493.1 C288.92,494.18 291.68,495.27 294.5,496.2 C297.32,497.13 299.17,497.72 303,498.7 C306.83,499.68 315.08,501.53 317.5,502.1" fill="none" stroke="#000" stroke-width="2.5" stroke-linejoin="round"/>
<path d="M213,484.3 C213.92,484.87 216.18,486.43 218.5,487.7 C220.82,488.97 224.08,490.63 226.9,491.9 C229.72,493.17 232.58,494.17 235.4,495.3 C238.22,496.43 240.98,497.72 243.8,498.7 C246.62,499.68 249.48,500.42 252.3,501.2 C255.12,501.98 257.88,502.7 260.7,503.4 C263.52,504.1 266.38,504.78 269.2,505.4 C272.02,506.02 274.78,506.58 277.6,507.1 C280.42,507.62 283.28,508.07 286.1,508.5 C288.92,508.93 291.68,509.37 294.5,509.7 C297.32,510.03 299.17,510.17 303,510.5 C306.83,510.83 315.08,511.5 317.5,511.7" fill="none" stroke="#000" stroke-width="2.7" stroke-linecap="round" stroke-dasharray="0.01 4.6"/>
<rect x="366.8" y="434.7" width="108.7" height="92.8" fill="none" stroke="#3a3a3a" stroke-width="1.1"/>
<line x1="366.8" y1="481.1" x2="371.8" y2="481.1" stroke="#3a3a3a" stroke-width="1.1"/>
<line x1="475.5" y1="481.1" x2="470.5" y2="481.1" stroke="#3a3a3a" stroke-width="1.1"/>
<line x1="421.15" y1="434.7" x2="421.15" y2="439.7" stroke="#3a3a3a" stroke-width="1.1"/>
<line x1="421.15" y1="527.5" x2="421.15" y2="522.5" stroke="#3a3a3a" stroke-width="1.1"/>
<text x="363.2" y="439.1" font-family='"Liberation Serif", serif' font-size="9.4" fill="#22180e" stroke="#22180e" stroke-width="0.12" text-anchor="end">2</text>
<text x="363.2" y="485.5" font-family='"Liberation Serif", serif' font-size="9.4" fill="#22180e" stroke="#22180e" stroke-width="0.12" text-anchor="end">1</text>
<text x="363.2" y="531.9" font-family='"Liberation Serif", serif' font-size="9.4" fill="#22180e" stroke="#22180e" stroke-width="0.12" text-anchor="end">0</text>
<text x="368.1" y="539.7" font-family='"Liberation Serif", serif' font-size="9.4" fill="#22180e" stroke="#22180e" stroke-width="0.12" text-anchor="middle">1</text>
<text x="422.45" y="539.7" font-family='"Liberation Serif", serif' font-size="9.4" fill="#22180e" stroke="#22180e" stroke-width="0.12" text-anchor="middle">1.5</text>
<text x="476.8" y="539.7" font-family='"Liberation Serif", serif' font-size="9.4" fill="#22180e" stroke="#22180e" stroke-width="0.12" text-anchor="middle">2</text>
<path d="M366.8,523.9 C367.23,522.27 368.38,517.82 369.4,514.1 C370.42,510.38 371.57,505.77 372.9,501.6 C374.23,497.43 375.92,492.82 377.4,489.1 C378.88,485.38 380.32,481.98 381.8,479.3 C383.28,476.62 384.8,474.63 386.3,473 C387.8,471.37 389.17,470.48 390.8,469.5 C392.43,468.52 394.32,467.62 396.1,467.1 C397.88,466.58 399.57,466.45 401.5,466.4 C403.43,466.35 405.62,466.43 407.7,466.8 C409.78,467.17 411.47,467.8 414,468.6 C416.53,469.4 419.93,470.42 422.9,471.6 C425.87,472.78 428.83,474.27 431.8,475.7 C434.77,477.13 437.73,478.72 440.7,480.2 C443.67,481.68 446.62,483.12 449.6,484.6 C452.58,486.08 455.62,487.67 458.6,489.1 C461.58,490.53 464.68,491.87 467.5,493.2 C470.32,494.53 474.17,496.45 475.5,497.1" fill="none" stroke="#000" stroke-width="2.5" stroke-linejoin="round"/>
<path d="M366.8,522.1 C367.52,521.07 369.48,517.83 371.1,515.9 C372.72,513.97 374.72,512.3 376.5,510.5 C378.28,508.7 379.72,506.73 381.8,505.1 C383.88,503.47 386.62,501.88 389,500.7 C391.38,499.52 393.72,498.75 396.1,498 C398.48,497.25 400.92,496.58 403.3,496.2 C405.68,495.82 408.03,495.63 410.4,495.7 C412.77,495.77 414.83,496.07 417.5,496.6 C420.17,497.13 423.42,498.07 426.4,498.9 C429.38,499.73 432.42,500.8 435.4,501.6 C438.38,502.4 441.33,503.02 444.3,503.7 C447.27,504.38 450.23,505.07 453.2,505.7 C456.17,506.33 458.38,506.78 462.1,507.5 C465.82,508.22 473.27,509.58 475.5,510" fill="none" stroke="#000" stroke-width="2.7" stroke-linecap="round" stroke-dasharray="0.01 4.6"/>
<rect x="529.9" y="431.2" width="103.4" height="90.3" fill="none" stroke="#3a3a3a" stroke-width="1.1"/>
<line x1="529.9" y1="476.35" x2="534.9" y2="476.35" stroke="#3a3a3a" stroke-width="1.1"/>
<line x1="633.3" y1="476.35" x2="628.3" y2="476.35" stroke="#3a3a3a" stroke-width="1.1"/>
<line x1="581.6" y1="431.2" x2="581.6" y2="436.2" stroke="#3a3a3a" stroke-width="1.1"/>
<line x1="581.6" y1="521.5" x2="581.6" y2="516.5" stroke="#3a3a3a" stroke-width="1.1"/>
<text x="526.3" y="435.6" font-family='"Liberation Serif", serif' font-size="9.4" fill="#22180e" stroke="#22180e" stroke-width="0.12" text-anchor="end">2</text>
<text x="526.3" y="480.75" font-family='"Liberation Serif", serif' font-size="9.4" fill="#22180e" stroke="#22180e" stroke-width="0.12" text-anchor="end">1</text>
<text x="526.3" y="525.9" font-family='"Liberation Serif", serif' font-size="9.4" fill="#22180e" stroke="#22180e" stroke-width="0.12" text-anchor="end">0</text>
<text x="531.2" y="533.3" font-family='"Liberation Serif", serif' font-size="9.4" fill="#22180e" stroke="#22180e" stroke-width="0.12" text-anchor="middle">1</text>
<text x="582.9" y="533.3" font-family='"Liberation Serif", serif' font-size="9.4" fill="#22180e" stroke="#22180e" stroke-width="0.12" text-anchor="middle">1.5</text>
<text x="634.6" y="533.3" font-family='"Liberation Serif", serif' font-size="9.4" fill="#22180e" stroke="#22180e" stroke-width="0.12" text-anchor="middle">2</text>
<path d="M529.9,517.4 C530.42,515.35 531.9,509.18 533,505.1 C534.1,501.02 535.33,496.55 536.5,492.9 C537.67,489.25 538.83,486.13 540,483.2 C541.17,480.27 542.18,477.63 543.5,475.3 C544.82,472.97 546.43,470.95 547.9,469.2 C549.37,467.45 550.68,465.97 552.3,464.8 C553.92,463.63 555.85,462.78 557.6,462.2 C559.35,461.62 560.92,461.37 562.8,461.3 C564.68,461.23 566.85,461.37 568.9,461.8 C570.95,462.23 572.62,462.97 575.1,463.9 C577.58,464.83 580.88,466.08 583.8,467.4 C586.72,468.72 589.67,470.25 592.6,471.8 C595.53,473.35 598.48,475.08 601.4,476.7 C604.32,478.32 607.18,479.98 610.1,481.5 C613.02,483.02 615.03,484.05 618.9,485.8 C622.77,487.55 630.9,490.97 633.3,492" fill="none" stroke="#000" stroke-width="2.5" stroke-linejoin="round"/>
<path d="M529.9,503 C530.57,502.33 532.5,500.4 533.9,499 C535.3,497.6 536.7,495.85 538.3,494.6 C539.9,493.35 541.47,492.28 543.5,491.5 C545.53,490.72 548.15,490.2 550.5,489.9 C552.85,489.6 555.25,489.5 557.6,489.7 C559.95,489.9 562.27,490.52 564.6,491.1 C566.93,491.68 569.27,492.47 571.6,493.2 C573.93,493.93 575.98,494.68 578.6,495.5 C581.22,496.32 584.38,497.28 587.3,498.1 C590.22,498.92 593.17,499.67 596.1,500.4 C599.03,501.13 601.98,501.8 604.9,502.5 C607.82,503.2 610.68,503.95 613.6,504.6 C616.52,505.25 619.12,505.78 622.4,506.4 C625.68,507.02 631.48,507.98 633.3,508.3" fill="none" stroke="#000" stroke-width="2.7" stroke-linecap="round" stroke-dasharray="0.01 4.6"/>
<rect x="191.2" y="732" width="116.1" height="92.5" fill="none" stroke="#3a3a3a" stroke-width="1.1"/>
<line x1="191.2" y1="778.25" x2="196.2" y2="778.25" stroke="#3a3a3a" stroke-width="1.1"/>
<line x1="307.3" y1="778.25" x2="302.3" y2="778.25" stroke="#3a3a3a" stroke-width="1.1"/>
<line x1="249.25" y1="732" x2="249.25" y2="737" stroke="#3a3a3a" stroke-width="1.1"/>
<line x1="249.25" y1="824.5" x2="249.25" y2="819.5" stroke="#3a3a3a" stroke-width="1.1"/>
<text x="187.6" y="736.4" font-family='"Liberation Serif", serif' font-size="9.4" fill="#22180e" stroke="#22180e" stroke-width="0.12" text-anchor="end">100</text>
<text x="187.6" y="782.65" font-family='"Liberation Serif", serif' font-size="9.4" fill="#22180e" stroke="#22180e" stroke-width="0.12" text-anchor="end">50</text>
<text x="187.6" y="828.9" font-family='"Liberation Serif", serif' font-size="9.4" fill="#22180e" stroke="#22180e" stroke-width="0.12" text-anchor="end">0</text>
<text x="192.5" y="835.9" font-family='"Liberation Serif", serif' font-size="9.4" fill="#22180e" stroke="#22180e" stroke-width="0.12" text-anchor="middle">1</text>
<text x="250.55" y="835.9" font-family='"Liberation Serif", serif' font-size="9.4" fill="#22180e" stroke="#22180e" stroke-width="0.12" text-anchor="middle">1.5</text>
<text x="308.6" y="835.9" font-family='"Liberation Serif", serif' font-size="9.4" fill="#22180e" stroke="#22180e" stroke-width="0.12" text-anchor="middle">2</text>
<path d="M191.2,760.3 C192.43,760.5 195.93,760.43 198.6,761.5 C201.27,762.57 204.33,764.55 207.2,766.7 C210.07,768.85 212.93,771.82 215.8,774.4 C218.67,776.98 221.53,779.77 224.4,782.2 C227.27,784.63 230.13,786.87 233,789 C235.87,791.13 238.73,793.13 241.6,795 C244.47,796.87 247.33,798.62 250.2,800.2 C253.07,801.78 255.92,803.2 258.8,804.5 C261.68,805.8 264.63,806.98 267.5,808 C270.37,809.02 273.13,809.83 276,810.6 C278.87,811.37 281.82,811.97 284.7,812.6 C287.58,813.23 289.53,813.8 293.3,814.4 C297.07,815 304.97,815.9 307.3,816.2" fill="none" stroke="#000" stroke-width="2.5" stroke-linejoin="round"/>
<path d="M191.2,795.4 C192.15,794.63 194.52,791.87 196.9,790.8 C199.28,789.73 202.63,789 205.5,789 C208.37,789 211.23,789.93 214.1,790.8 C216.97,791.67 219.83,793.05 222.7,794.2 C225.57,795.35 228.43,796.4 231.3,797.7 C234.17,799 237.03,800.57 239.9,802 C242.77,803.43 245.63,805.02 248.5,806.3 C251.37,807.58 254.23,808.7 257.1,809.7 C259.97,810.7 262.83,811.52 265.7,812.3 C268.57,813.08 271.43,813.77 274.3,814.4 C277.17,815.03 280.03,815.58 282.9,816.1 C285.77,816.62 287.43,816.93 291.5,817.5 C295.57,818.07 304.67,819.17 307.3,819.5" fill="none" stroke="#000" stroke-width="2.7" stroke-linecap="round" stroke-dasharray="0.01 4.6"/>
<rect x="370.9" y="725.4" width="115.5" height="92.1" fill="none" stroke="#3a3a3a" stroke-width="1.1"/>
<line x1="370.9" y1="771.45" x2="375.9" y2="771.45" stroke="#3a3a3a" stroke-width="1.1"/>
<line x1="486.4" y1="771.45" x2="481.4" y2="771.45" stroke="#3a3a3a" stroke-width="1.1"/>
<line x1="428.65" y1="725.4" x2="428.65" y2="730.4" stroke="#3a3a3a" stroke-width="1.1"/>
<line x1="428.65" y1="817.5" x2="428.65" y2="812.5" stroke="#3a3a3a" stroke-width="1.1"/>
<text x="367.3" y="729.8" font-family='"Liberation Serif", serif' font-size="9.4" fill="#22180e" stroke="#22180e" stroke-width="0.12" text-anchor="end">100</text>
<text x="367.3" y="775.85" font-family='"Liberation Serif", serif' font-size="9.4" fill="#22180e" stroke="#22180e" stroke-width="0.12" text-anchor="end">50</text>
<text x="367.3" y="821.9" font-family='"Liberation Serif", serif' font-size="9.4" fill="#22180e" stroke="#22180e" stroke-width="0.12" text-anchor="end">0</text>
<text x="372.2" y="829.4" font-family='"Liberation Serif", serif' font-size="9.4" fill="#22180e" stroke="#22180e" stroke-width="0.12" text-anchor="middle">1</text>
<text x="429.95" y="829.4" font-family='"Liberation Serif", serif' font-size="9.4" fill="#22180e" stroke="#22180e" stroke-width="0.12" text-anchor="middle">1.5</text>
<text x="487.7" y="829.4" font-family='"Liberation Serif", serif' font-size="9.4" fill="#22180e" stroke="#22180e" stroke-width="0.12" text-anchor="middle">2</text>
<path d="M370.9,753.5 C371.68,753.67 373.85,753.87 375.6,754.5 C377.35,755.13 379.48,756.03 381.4,757.3 C383.32,758.57 385.2,760.35 387.1,762.1 C389,763.85 390.9,765.9 392.8,767.8 C394.7,769.7 396.27,771.43 398.5,773.5 C400.73,775.57 403.33,777.97 406.2,780.2 C409.07,782.43 412.52,784.83 415.7,786.9 C418.88,788.97 422.12,790.95 425.3,792.6 C428.48,794.25 431.62,795.52 434.8,796.8 C437.98,798.08 441.2,799.25 444.4,800.3 C447.6,801.35 450.82,802.25 454,803.1 C457.18,803.95 460.33,804.7 463.5,805.4 C466.67,806.1 469.18,806.67 473,807.3 C476.82,807.93 484.17,808.88 486.4,809.2" fill="none" stroke="#000" stroke-width="2.5" stroke-linejoin="round"/>
<path d="M370.9,785 C371.53,785.8 373.27,788.05 374.7,789.8 C376.13,791.55 377.75,793.75 379.5,795.5 C381.25,797.25 383.3,798.93 385.2,800.3 C387.1,801.67 389,802.75 390.9,803.7 C392.8,804.65 394.05,805.13 396.6,806 C399.15,806.87 403.02,808.1 406.2,808.9 C409.38,809.7 412.52,810.27 415.7,810.8 C418.88,811.33 422.12,811.72 425.3,812.1 C428.48,812.48 431.62,812.85 434.8,813.1 C437.98,813.35 441.2,813.42 444.4,813.6 C447.6,813.78 450.82,814.03 454,814.2 C457.18,814.37 460.33,814.47 463.5,814.6 C466.67,814.73 469.18,814.9 473,815 C476.82,815.1 484.17,815.17 486.4,815.2" fill="none" stroke="#000" stroke-width="2.7" stroke-linecap="round" stroke-dasharray="0.01 4.6"/>
<g transform="translate(1.6,178) scale(1,1)" font-family='"Liberation Serif", serif' font-style="italic" fill="#222"><line x1="0" y1="0" x2="0" y2="34.7" stroke="#999" stroke-width="1.2"/><line x1="19.2" y1="0" x2="19.2" y2="34.7" stroke="#999" stroke-width="1.2"/><line x1="1.9" y1="17.6" x2="17.3" y2="17.6" stroke="#666" stroke-width="0.9"/><text x="3.1" y="13" font-size="13.5" stroke="#222" stroke-width="0.3">E</text><text x="11.4" y="16.4" font-size="6.6" stroke="#222" stroke-width="0.2">A</text><text x="4.6" y="31" font-size="13.5" stroke="#222" stroke-width="0.3">E</text><text x="12.3" y="34" font-size="7.4" stroke="#222" stroke-width="0.2">i</text><text x="20.8" y="3.5" font-size="8.6" font-style="normal" fill="#222" stroke="#222" stroke-width="0.2">2</text></g>
<g transform="translate(162.6,182.2) scale(1,1)" font-family='"Liberation Serif", serif' font-style="italic" fill="#222"><line x1="0" y1="0" x2="0" y2="34.7" stroke="#999" stroke-width="1.2"/><line x1="19.2" y1="0" x2="19.2" y2="34.7" stroke="#999" stroke-width="1.2"/><line x1="1.9" y1="17.6" x2="17.3" y2="17.6" stroke="#666" stroke-width="0.9"/><text x="3.1" y="13" font-size="13.5" stroke="#222" stroke-width="0.3">E</text><text x="11.4" y="16.4" font-size="6.6" stroke="#222" stroke-width="0.2">A</text><text x="4.6" y="31" font-size="13.5" stroke="#222" stroke-width="0.3">E</text><text x="12.3" y="34" font-size="7.4" stroke="#222" stroke-width="0.2">i</text><text x="20.8" y="3.5" font-size="8.6" font-style="normal" fill="#222" stroke="#222" stroke-width="0.2">2</text></g>
<g transform="translate(323.8,183.1) scale(0.92,0.885)" font-family='"Liberation Serif", serif' font-style="italic" fill="#222"><line x1="0" y1="0" x2="0" y2="34.7" stroke="#999" stroke-width="1.2"/><line x1="19.2" y1="0" x2="19.2" y2="34.7" stroke="#999" stroke-width="1.2"/><line x1="1.9" y1="17.6" x2="17.3" y2="17.6" stroke="#666" stroke-width="0.9"/><text x="3.1" y="13" font-size="13.5" stroke="#222" stroke-width="0.3">E</text><text x="11.4" y="16.4" font-size="6.6" stroke="#222" stroke-width="0.2">A</text><text x="4.6" y="31" font-size="13.5" stroke="#222" stroke-width="0.3">E</text><text x="12.3" y="34" font-size="7.4" stroke="#222" stroke-width="0.2">i</text><text x="20.8" y="3.5" font-size="8.6" font-style="normal" fill="#222" stroke="#222" stroke-width="0.2">2</text></g>
<g transform="translate(473.8,189) scale(0.93,0.86)" font-family='"Liberation Serif", serif' font-style="italic" fill="#222"><line x1="0" y1="0" x2="0" y2="34.7" stroke="#999" stroke-width="1.2"/><line x1="19.2" y1="0" x2="19.2" y2="34.7" stroke="#999" stroke-width="1.2"/><line x1="1.9" y1="17.6" x2="17.3" y2="17.6" stroke="#666" stroke-width="0.9"/><text x="3.1" y="13" font-size="13.5" stroke="#222" stroke-width="0.3">E</text><text x="11.4" y="16.4" font-size="6.6" stroke="#222" stroke-width="0.2">A</text><text x="4.6" y="31" font-size="13.5" stroke="#222" stroke-width="0.3">E</text><text x="12.3" y="34" font-size="7.4" stroke="#222" stroke-width="0.2">i</text><text x="20.8" y="3.5" font-size="8.6" font-style="normal" fill="#222" stroke="#222" stroke-width="0.2">2</text></g>
<g transform="translate(1.6,462.5) scale(0.985,0.985)" font-family='"Liberation Serif", serif' font-style="italic" fill="#222"><line x1="0" y1="0" x2="0" y2="34.7" stroke="#999" stroke-width="1.2"/><line x1="19.2" y1="0" x2="19.2" y2="34.7" stroke="#999" stroke-width="1.2"/><line x1="1.9" y1="17.6" x2="17.3" y2="17.6" stroke="#666" stroke-width="0.9"/><text x="3.1" y="13" font-size="13.5" stroke="#222" stroke-width="0.3">E</text><text x="11.4" y="16.4" font-size="6.6" stroke="#222" stroke-width="0.2">A</text><text x="4.6" y="31" font-size="13.5" stroke="#222" stroke-width="0.3">E</text><text x="12.3" y="34" font-size="7.4" stroke="#222" stroke-width="0.2">i</text><text x="20.8" y="3.5" font-size="8.6" font-style="normal" fill="#222" stroke="#222" stroke-width="0.2">2</text></g>
<g transform="translate(173.1,462.2) scale(0.995,0.99)" font-family='"Liberation Serif", serif' font-style="italic" fill="#222"><line x1="0" y1="0" x2="0" y2="34.7" stroke="#999" stroke-width="1.2"/><line x1="19.2" y1="0" x2="19.2" y2="34.7" stroke="#999" stroke-width="1.2"/><line x1="1.9" y1="17.6" x2="17.3" y2="17.6" stroke="#666" stroke-width="0.9"/><text x="3.1" y="13" font-size="13.5" stroke="#222" stroke-width="0.3">E</text><text x="11.4" y="16.4" font-size="6.6" stroke="#222" stroke-width="0.2">A</text><text x="4.6" y="31" font-size="13.5" stroke="#222" stroke-width="0.3">E</text><text x="12.3" y="34" font-size="7.4" stroke="#222" stroke-width="0.2">i</text><text x="20.8" y="3.5" font-size="8.6" font-style="normal" fill="#222" stroke="#222" stroke-width="0.2">2</text></g>
<g transform="translate(335.4,464.9) scale(0.94,1.03)" font-family='"Liberation Serif", serif' font-style="italic" fill="#222"><line x1="0" y1="0" x2="0" y2="34.7" stroke="#999" stroke-width="1.2"/><line x1="19.2" y1="0" x2="19.2" y2="34.7" stroke="#999" stroke-width="1.2"/><line x1="1.9" y1="17.6" x2="17.3" y2="17.6" stroke="#666" stroke-width="0.9"/><text x="3.1" y="13" font-size="13.5" stroke="#222" stroke-width="0.3">E</text><text x="11.4" y="16.4" font-size="6.6" stroke="#222" stroke-width="0.2">A</text><text x="4.6" y="31" font-size="13.5" stroke="#222" stroke-width="0.3">E</text><text x="12.3" y="34" font-size="7.4" stroke="#222" stroke-width="0.2">i</text><text x="20.8" y="3.5" font-size="8.6" font-style="normal" fill="#222" stroke="#222" stroke-width="0.2">2</text></g>
<g transform="translate(499.8,461.9) scale(0.87,0.98)" font-family='"Liberation Serif", serif' font-style="italic" fill="#222"><line x1="0" y1="0" x2="0" y2="34.7" stroke="#999" stroke-width="1.2"/><line x1="19.2" y1="0" x2="19.2" y2="34.7" stroke="#999" stroke-width="1.2"/><line x1="1.9" y1="17.6" x2="17.3" y2="17.6" stroke="#666" stroke-width="0.9"/><text x="3.1" y="13" font-size="13.5" stroke="#222" stroke-width="0.3">E</text><text x="11.4" y="16.4" font-size="6.6" stroke="#222" stroke-width="0.2">A</text><text x="4.6" y="31" font-size="13.5" stroke="#222" stroke-width="0.3">E</text><text x="12.3" y="34" font-size="7.4" stroke="#222" stroke-width="0.2">i</text><text x="20.8" y="3.5" font-size="8.6" font-style="normal" fill="#222" stroke="#222" stroke-width="0.2">2</text></g>
<g transform="translate(142,764) scale(0.99,0.975)" font-family='"Liberation Serif", serif' font-style="italic" fill="#222"><line x1="0" y1="0" x2="0" y2="34.7" stroke="#999" stroke-width="1.2"/><line x1="19.2" y1="0" x2="19.2" y2="34.7" stroke="#999" stroke-width="1.2"/><line x1="1.9" y1="17.6" x2="17.3" y2="17.6" stroke="#666" stroke-width="0.9"/><text x="3.1" y="13" font-size="13.5" stroke="#222" stroke-width="0.05">E</text><text x="11.4" y="16.4" font-size="7.4" stroke="#222" stroke-width="0.2">A</text><text x="4.6" y="31" font-size="13.5" stroke="#222" stroke-width="0.05">E</text><text x="12.3" y="34" font-size="7.4" stroke="#222" stroke-width="0.2">i</text><text x="20.8" y="3.5" font-size="8.6" font-style="normal" fill="#222" stroke="#222" stroke-width="0.2">2</text></g>
<g transform="translate(332.3,759.1) scale(0.995,0.97)" font-family='"Liberation Serif", serif' font-style="italic" fill="#222"><line x1="0" y1="0" x2="0" y2="34.7" stroke="#999" stroke-width="1.2"/><line x1="19.2" y1="0" x2="19.2" y2="34.7" stroke="#999" stroke-width="1.2"/><line x1="1.9" y1="17.6" x2="17.3" y2="17.6" stroke="#666" stroke-width="0.9"/><text x="3.1" y="13" font-size="13.5" stroke="#222" stroke-width="0.15">E</text><text x="11.4" y="16.4" font-size="7.2" stroke="#222" stroke-width="0.2">A</text><text x="4.6" y="31" font-size="13.5" stroke="#222" stroke-width="0.15">E</text><text x="12.3" y="34" font-size="7.4" stroke="#222" stroke-width="0.2">i</text><text x="20.8" y="3.5" font-size="8.6" font-style="normal" fill="#222" stroke="#222" stroke-width="0.2">2</text></g>
<text x="68.6" y="264.3" font-family='"Liberation Serif", serif' font-size="14" font-style="italic" fill="#1a1a1a" stroke="#1a1a1a" stroke-width="0.2">r</text>
<text x="74.1" y="268.5" font-family='"Liberation Serif", serif' font-size="9.520000000000001" font-style="italic" fill="#1a1a1a" stroke="#1a1a1a" stroke-width="0.2">p</text>
<text x="79.6" y="264.3" font-family='"Liberation Serif", serif' font-size="14" fill="#1a1a1a" stroke="#1a1a1a" stroke-width="0.2">(</text>
<text x="85.1" y="264.3" font-family='"Liberation Serif", serif' font-size="14" font-style="italic" fill="#1a1a1a" stroke="#1a1a1a" stroke-width="0.2" textLength="19.1" lengthAdjust="spacingAndGlyphs">μm</text>
<text x="104.4" y="264.3" font-family='"Liberation Serif", serif' font-size="14" fill="#1a1a1a" stroke="#1a1a1a" stroke-width="0.2">)</text>
<text x="235.2" y="258.5" font-family='"Liberation Serif", serif' font-size="14" font-style="italic" fill="#1a1a1a" stroke="#1a1a1a" stroke-width="0.2">r</text>
<text x="240.7" y="262.7" font-family='"Liberation Serif", serif' font-size="9.520000000000001" font-style="italic" fill="#1a1a1a" stroke="#1a1a1a" stroke-width="0.2">p</text>
<text x="246.2" y="258.5" font-family='"Liberation Serif", serif' font-size="14" fill="#1a1a1a" stroke="#1a1a1a" stroke-width="0.2">(</text>
<text x="251.6" y="258.5" font-family='"Liberation Serif", serif' font-size="14" font-style="italic" fill="#1a1a1a" stroke="#1a1a1a" stroke-width="0.2" textLength="18.8" lengthAdjust="spacingAndGlyphs">μm</text>
<text x="270.6" y="258.5" font-family='"Liberation Serif", serif' font-size="14" fill="#1a1a1a" stroke="#1a1a1a" stroke-width="0.2">)</text>
<text x="390.8" y="259" font-family='"Liberation Serif", serif' font-size="14" font-style="italic" fill="#1a1a1a" stroke="#1a1a1a" stroke-width="0.2">r</text>
<text x="396.3" y="263.2" font-family='"Liberation Serif", serif' font-size="9.520000000000001" font-style="italic" fill="#1a1a1a" stroke="#1a1a1a" stroke-width="0.2">p</text>
<text x="401.8" y="259" font-family='"Liberation Serif", serif' font-size="14" fill="#1a1a1a" stroke="#1a1a1a" stroke-width="0.2">(</text>
<text x="407.2" y="259" font-family='"Liberation Serif", serif' font-size="14" font-style="italic" fill="#1a1a1a" stroke="#1a1a1a" stroke-width="0.2" textLength="19.7" lengthAdjust="spacingAndGlyphs">μm</text>
<text x="427.1" y="259" font-family='"Liberation Serif", serif' font-size="14" fill="#1a1a1a" stroke="#1a1a1a" stroke-width="0.2">)</text>
<text x="550.3" y="264" font-family='"Liberation Serif", serif' font-size="14" font-style="italic" fill="#1a1a1a" stroke="#1a1a1a" stroke-width="0.2">r</text>
<text x="555.8" y="268.2" font-family='"Liberation Serif", serif' font-size="9.520000000000001" font-style="italic" fill="#1a1a1a" stroke="#1a1a1a" stroke-width="0.2">p</text>
<text x="560.8" y="264" font-family='"Liberation Serif", serif' font-size="14" fill="#1a1a1a" stroke="#1a1a1a" stroke-width="0.2">(</text>
<text x="566.3" y="264" font-family='"Liberation Serif", serif' font-size="14" font-style="italic" fill="#1a1a1a" stroke="#1a1a1a" stroke-width="0.2" textLength="19.7" lengthAdjust="spacingAndGlyphs">μm</text>
<text x="586.2" y="264" font-family='"Liberation Serif", serif' font-size="14" fill="#1a1a1a" stroke="#1a1a1a" stroke-width="0.2">)</text>
<text x="78.6" y="546.4" font-family='"Liberation Serif", serif' font-size="14" font-style="italic" fill="#1a1a1a" stroke="#1a1a1a" stroke-width="0.2">r</text>
<text x="84.1" y="550.6" font-family='"Liberation Serif", serif' font-size="9.520000000000001" font-style="italic" fill="#1a1a1a" stroke="#1a1a1a" stroke-width="0.2">p</text>
<text x="89.6" y="546.4" font-family='"Liberation Serif", serif' font-size="14" fill="#1a1a1a" stroke="#1a1a1a" stroke-width="0.2">(</text>
<text x="95.1" y="546.4" font-family='"Liberation Serif", serif' font-size="14" font-style="italic" fill="#1a1a1a" stroke="#1a1a1a" stroke-width="0.2" textLength="18.2" lengthAdjust="spacingAndGlyphs">μm</text>
<text x="113.5" y="546.4" font-family='"Liberation Serif", serif' font-size="14" fill="#1a1a1a" stroke="#1a1a1a" stroke-width="0.2">)</text>
<text x="249.6" y="548.3" font-family='"Liberation Serif", serif' font-size="14" font-style="italic" fill="#1a1a1a" stroke="#1a1a1a" stroke-width="0.2">r</text>
<text x="255.1" y="552.5" font-family='"Liberation Serif", serif' font-size="9.520000000000001" font-style="italic" fill="#1a1a1a" stroke="#1a1a1a" stroke-width="0.2">p</text>
<text x="261" y="548.3" font-family='"Liberation Serif", serif' font-size="14" fill="#1a1a1a" stroke="#1a1a1a" stroke-width="0.2">(</text>
<text x="266" y="548.3" font-family='"Liberation Serif", serif' font-size="14" font-style="italic" fill="#1a1a1a" stroke="#1a1a1a" stroke-width="0.2" textLength="18.7" lengthAdjust="spacingAndGlyphs">μm</text>
<text x="284.9" y="548.3" font-family='"Liberation Serif", serif' font-size="14" fill="#1a1a1a" stroke="#1a1a1a" stroke-width="0.2">)</text>
<text x="405" y="553.4" font-family='"Liberation Serif", serif' font-size="13.3" font-style="italic" fill="#1a1a1a" stroke="#1a1a1a" stroke-width="0.2">r</text>
<text x="410.24" y="557.6" font-family='"Liberation Serif", serif' font-size="9.044" font-style="italic" fill="#1a1a1a" stroke="#1a1a1a" stroke-width="0.2">p</text>
<text x="415.5" y="553.4" font-family='"Liberation Serif", serif' font-size="13.3" fill="#1a1a1a" stroke="#1a1a1a" stroke-width="0.2">(</text>
<text x="420.1" y="553.4" font-family='"Liberation Serif", serif' font-size="13.3" font-style="italic" fill="#1a1a1a" stroke="#1a1a1a" stroke-width="0.2" textLength="18.2" lengthAdjust="spacingAndGlyphs">μm</text>
<text x="438.5" y="553.4" font-family='"Liberation Serif", serif' font-size="13.3" fill="#1a1a1a" stroke="#1a1a1a" stroke-width="0.2">)</text>
<text x="566.4" y="550.2" font-family='"Liberation Serif", serif' font-size="12.5" font-style="italic" fill="#1a1a1a" stroke="#1a1a1a" stroke-width="0.2">r</text>
<text x="571.34" y="554.4" font-family='"Liberation Serif", serif' font-size="8.5" font-style="italic" fill="#1a1a1a" stroke="#1a1a1a" stroke-width="0.2">p</text>
<text x="576.9" y="550.2" font-family='"Liberation Serif", serif' font-size="12.5" fill="#1a1a1a" stroke="#1a1a1a" stroke-width="0.2">(</text>
<text x="581.5" y="550.2" font-family='"Liberation Serif", serif' font-size="12.5" font-style="italic" fill="#1a1a1a" stroke="#1a1a1a" stroke-width="0.2" textLength="15.9" lengthAdjust="spacingAndGlyphs">μm</text>
<text x="597.6" y="550.2" font-family='"Liberation Serif", serif' font-size="12.5" fill="#1a1a1a" stroke="#1a1a1a" stroke-width="0.2">)</text>
<text x="232.7" y="851.8" font-family='"Liberation Serif", serif' font-size="14" font-style="italic" fill="#1a1a1a" stroke="#1a1a1a" stroke-width="0.2">r</text>
<text x="238.2" y="856" font-family='"Liberation Serif", serif' font-size="9.520000000000001" font-style="italic" fill="#1a1a1a" stroke="#1a1a1a" stroke-width="0.2">p</text>
<text x="246.4" y="851.8" font-family='"Liberation Serif", serif' font-size="14" fill="#1a1a1a" stroke="#1a1a1a" stroke-width="0.2">(</text>
<text x="251.9" y="851.8" font-family='"Liberation Serif", serif' font-size="14" font-style="italic" fill="#1a1a1a" stroke="#1a1a1a" stroke-width="0.2" textLength="19.7" lengthAdjust="spacingAndGlyphs">μm</text>
<text x="271.8" y="851.8" font-family='"Liberation Serif", serif' font-size="14" fill="#1a1a1a" stroke="#1a1a1a" stroke-width="0.2">)</text>
<text x="413.2" y="853.3" font-family='"Liberation Serif", serif' font-size="14" font-style="italic" fill="#1a1a1a" stroke="#1a1a1a" stroke-width="0.2">r</text>
<text x="418.7" y="857.5" font-family='"Liberation Serif", serif' font-size="9.520000000000001" font-style="italic" fill="#1a1a1a" stroke="#1a1a1a" stroke-width="0.2">p</text>
<text x="426.9" y="853.3" font-family='"Liberation Serif", serif' font-size="14" fill="#1a1a1a" stroke="#1a1a1a" stroke-width="0.2">(</text>
<text x="431.7" y="853.3" font-family='"Liberation Serif", serif' font-size="14" font-style="italic" fill="#1a1a1a" stroke="#1a1a1a" stroke-width="0.2" textLength="19.5" lengthAdjust="spacingAndGlyphs">μm</text>
<text x="451.4" y="853.3" font-family='"Liberation Serif", serif' font-size="14" fill="#1a1a1a" stroke="#1a1a1a" stroke-width="0.2">)</text>
<text x="106.25" y="172.3" font-family='"Liberation Serif", serif' font-size="11.5" font-style="italic" fill="#1a1a1a" stroke="#1a1a1a" stroke-width="0.12" text-anchor="start">ϕ</text>
<text transform="translate(114.4,174.4) scale(1.05,1)" font-family='"Liberation Serif", serif' font-size="12.3" fill="#1a1a1a" stroke="#1a1a1a" stroke-width="0.15">=</text>
<line x1="123.7" y1="170.5" x2="131.9" y2="170.5" stroke="#1a1a1a" stroke-width="0.9"/>
<text x="127.8" y="165.9" font-family='"Liberation Serif", serif' font-size="11" font-style="italic" fill="#1a1a1a" stroke="#1a1a1a" stroke-width="0.12" text-anchor="middle">π</text>
<text x="128.1" y="181.7" font-family='"Liberation Serif", serif' font-size="12.3" fill="#1a1a1a" stroke="#1a1a1a" stroke-width="0.12" text-anchor="middle">2</text>
<text x="88.4" y="192" font-family='"Liberation Serif", serif' font-size="12.3" font-style="italic" fill="#1a1a1a" stroke="#1a1a1a" stroke-width="0.12" text-anchor="start">θ</text>
<text x="95.6" y="195.6" font-family='"Liberation Serif", serif' font-size="9.5" font-style="italic" fill="#1a1a1a" stroke="#1a1a1a" stroke-width="0.12" text-anchor="start">p</text>
<text transform="translate(103.3,192) scale(1.22,1)" font-family='"Liberation Serif", serif' font-size="12.3" fill="#1a1a1a" stroke="#1a1a1a" stroke-width="0.15">=</text>
<text x="113.1" y="192" font-family='"Liberation Serif", serif' font-size="12.3" fill="#1a1a1a" stroke="#1a1a1a" stroke-width="0.12" text-anchor="start">0</text>
<text x="34.3" y="225.7" font-family='"Liberation Serif", serif' font-size="12.3" font-style="italic" fill="#1a1a1a" stroke="#1a1a1a" stroke-width="0.12" text-anchor="start">θ</text>
<text x="41.5" y="229.3" font-family='"Liberation Serif", serif' font-size="9.5" font-style="italic" fill="#1a1a1a" stroke="#1a1a1a" stroke-width="0.12" text-anchor="start">p</text>
<text transform="translate(49.2,225.7) scale(1.22,1)" font-family='"Liberation Serif", serif' font-size="12.3" fill="#1a1a1a" stroke="#1a1a1a" stroke-width="0.15">=</text>
<text x="59" y="225.7" font-family='"Liberation Serif", serif' font-size="12.3" fill="#1a1a1a" stroke="#1a1a1a" stroke-width="0.12" text-anchor="start">0.115</text>
<text x="273.95" y="170.6" font-family='"Liberation Serif", serif' font-size="11.5" font-style="italic" fill="#1a1a1a" stroke="#1a1a1a" stroke-width="0.12" text-anchor="start">ϕ</text>
<text transform="translate(282.5,170.6) scale(1.15,1)" font-family='"Liberation Serif", serif' font-size="10.5" fill="#1a1a1a" stroke="#1a1a1a" stroke-width="0.15">=</text>
<text x="290.9" y="170.6" font-family='"Liberation Serif", serif' font-size="10.5" fill="#1a1a1a" stroke="#1a1a1a" stroke-width="0.12" text-anchor="start">0</text>
<text x="262.7" y="194.9" font-family='"Liberation Serif", serif' font-size="12.3" font-style="italic" fill="#1a1a1a" stroke="#1a1a1a" stroke-width="0.12" text-anchor="start">θ</text>
<text x="269.9" y="198.5" font-family='"Liberation Serif", serif' font-size="9.5" font-style="italic" fill="#1a1a1a" stroke="#1a1a1a" stroke-width="0.12" text-anchor="start">p</text>
<text transform="translate(277.6,194.9) scale(1.22,1)" font-family='"Liberation Serif", serif' font-size="12.3" fill="#1a1a1a" stroke="#1a1a1a" stroke-width="0.15">=</text>
<text x="287.4" y="194.9" font-family='"Liberation Serif", serif' font-size="12.3" fill="#1a1a1a" stroke="#1a1a1a" stroke-width="0.12" text-anchor="start">0</text>
<text x="201.7" y="228.3" font-family='"Liberation Serif", serif' font-size="12.3" font-style="italic" fill="#1a1a1a" stroke="#1a1a1a" stroke-width="0.12" text-anchor="start">θ</text>
<text x="208.9" y="231.9" font-family='"Liberation Serif", serif' font-size="9.5" font-style="italic" fill="#1a1a1a" stroke="#1a1a1a" stroke-width="0.12" text-anchor="start">p</text>
<text transform="translate(216.6,228.3) scale(1.22,1)" font-family='"Liberation Serif", serif' font-size="12.3" fill="#1a1a1a" stroke="#1a1a1a" stroke-width="0.15">=</text>
<text x="226.4" y="228.3" font-family='"Liberation Serif", serif' font-size="12.3" fill="#1a1a1a" stroke="#1a1a1a" stroke-width="0.12" text-anchor="start">0.145</text>
<text x="419.95" y="167" font-family='"Liberation Serif", serif' font-size="11.5" font-style="italic" fill="#1a1a1a" stroke="#1a1a1a" stroke-width="0.12" text-anchor="start">ϕ</text>
<text transform="translate(428.1,169.1) scale(1.05,1)" font-family='"Liberation Serif", serif' font-size="11.2" fill="#1a1a1a" stroke="#1a1a1a" stroke-width="0.15">=</text>
<line x1="437.4" y1="165.2" x2="445.6" y2="165.2" stroke="#1a1a1a" stroke-width="0.9"/>
<text x="441.5" y="160.6" font-family='"Liberation Serif", serif' font-size="11" font-style="italic" fill="#1a1a1a" stroke="#1a1a1a" stroke-width="0.12" text-anchor="middle">π</text>
<text x="441.8" y="176.4" font-family='"Liberation Serif", serif' font-size="11.2" fill="#1a1a1a" stroke="#1a1a1a" stroke-width="0.12" text-anchor="middle">2</text>
<text x="425.5" y="189.4" font-family='"Liberation Serif", serif' font-size="12.3" font-style="italic" fill="#1a1a1a" stroke="#1a1a1a" stroke-width="0.12" text-anchor="start">θ</text>
<text x="432.7" y="193" font-family='"Liberation Serif", serif' font-size="9.5" font-style="italic" fill="#1a1a1a" stroke="#1a1a1a" stroke-width="0.12" text-anchor="start">p</text>
<text transform="translate(440.4,189.4) scale(1.22,1)" font-family='"Liberation Serif", serif' font-size="12.3" fill="#1a1a1a" stroke="#1a1a1a" stroke-width="0.15">=</text>
<text x="450.2" y="189.4" font-family='"Liberation Serif", serif' font-size="12.3" fill="#1a1a1a" stroke="#1a1a1a" stroke-width="0.12" text-anchor="start">0</text>
<text x="364.7" y="225" font-family='"Liberation Serif", serif' font-size="11" font-style="italic" fill="#1a1a1a" stroke="#1a1a1a" stroke-width="0.12" text-anchor="start">θ</text>
<text x="371.71" y="228.6" font-family='"Liberation Serif", serif' font-size="9.5" font-style="italic" fill="#1a1a1a" stroke="#1a1a1a" stroke-width="0.12" text-anchor="start">p</text>
<text transform="translate(379.16,225) scale(1.22,1)" font-family='"Liberation Serif", serif' font-size="11" fill="#1a1a1a" stroke="#1a1a1a" stroke-width="0.15">=</text>
<text x="388.66" y="225" font-family='"Liberation Serif", serif' font-size="11" fill="#1a1a1a" stroke="#1a1a1a" stroke-width="0.12" text-anchor="start">0.102</text>
<text x="566.65" y="171.8" font-family='"Liberation Serif", serif' font-size="11.5" font-style="italic" fill="#1a1a1a" stroke="#1a1a1a" stroke-width="0.12" text-anchor="start">ϕ</text>
<text transform="translate(575.2,171.8) scale(1.15,1)" font-family='"Liberation Serif", serif' font-size="10.5" fill="#1a1a1a" stroke="#1a1a1a" stroke-width="0.15">=</text>
<text x="583.6" y="171.8" font-family='"Liberation Serif", serif' font-size="10.5" fill="#1a1a1a" stroke="#1a1a1a" stroke-width="0.12" text-anchor="start">0</text>
<text x="577.6" y="185.2" font-family='"Liberation Serif", serif' font-size="12.3" font-style="italic" fill="#1a1a1a" stroke="#1a1a1a" stroke-width="0.12" text-anchor="start">θ</text>
<text x="584.8" y="188.8" font-family='"Liberation Serif", serif' font-size="9.5" font-style="italic" fill="#1a1a1a" stroke="#1a1a1a" stroke-width="0.12" text-anchor="start">p</text>
<text transform="translate(592.5,185.2) scale(1.22,1)" font-family='"Liberation Serif", serif' font-size="12.3" fill="#1a1a1a" stroke="#1a1a1a" stroke-width="0.15">=</text>
<text x="602.3" y="185.2" font-family='"Liberation Serif", serif' font-size="12.3" fill="#1a1a1a" stroke="#1a1a1a" stroke-width="0.12" text-anchor="start">0</text>
<text x="514.1" y="228.3" font-family='"Liberation Serif", serif' font-size="11" font-style="italic" fill="#1a1a1a" stroke="#1a1a1a" stroke-width="0.12" text-anchor="start">θ</text>
<text x="521.11" y="231.9" font-family='"Liberation Serif", serif' font-size="9.5" font-style="italic" fill="#1a1a1a" stroke="#1a1a1a" stroke-width="0.12" text-anchor="start">p</text>
<text transform="translate(528.56,228.3) scale(1.22,1)" font-family='"Liberation Serif", serif' font-size="11" fill="#1a1a1a" stroke="#1a1a1a" stroke-width="0.15">=</text>
<text x="538.06" y="228.3" font-family='"Liberation Serif", serif' font-size="11" fill="#1a1a1a" stroke="#1a1a1a" stroke-width="0.12" text-anchor="start">0.132</text>
<text x="68.45" y="453.7" font-family='"Liberation Serif", serif' font-size="11.5" font-style="italic" fill="#1a1a1a" stroke="#1a1a1a" stroke-width="0.12" text-anchor="start">ϕ</text>
<text transform="translate(76.6,455.8) scale(1.05,1)" font-family='"Liberation Serif", serif' font-size="11.3" fill="#1a1a1a" stroke="#1a1a1a" stroke-width="0.15">=</text>
<line x1="85.9" y1="451.9" x2="94.1" y2="451.9" stroke="#1a1a1a" stroke-width="0.9"/>
<text x="90" y="447.3" font-family='"Liberation Serif", serif' font-size="11" font-style="italic" fill="#1a1a1a" stroke="#1a1a1a" stroke-width="0.12" text-anchor="middle">π</text>
<text x="90.3" y="463.1" font-family='"Liberation Serif", serif' font-size="11.3" fill="#1a1a1a" stroke="#1a1a1a" stroke-width="0.12" text-anchor="middle">2</text>
<text x="102" y="477.3" font-family='"Liberation Serif", serif' font-size="11.5" font-style="italic" fill="#1a1a1a" stroke="#1a1a1a" stroke-width="0.12" text-anchor="start">θ</text>
<text x="108.95" y="480.9" font-family='"Liberation Serif", serif' font-size="9.5" font-style="italic" fill="#1a1a1a" stroke="#1a1a1a" stroke-width="0.12" text-anchor="start">p</text>
<text transform="translate(116.31,477.3) scale(1.22,1)" font-family='"Liberation Serif", serif' font-size="11.5" fill="#1a1a1a" stroke="#1a1a1a" stroke-width="0.15">=</text>
<text x="125.71" y="477.3" font-family='"Liberation Serif", serif' font-size="11.5" fill="#1a1a1a" stroke="#1a1a1a" stroke-width="0.12" text-anchor="start">0</text>
<text x="42.9" y="511.3" font-family='"Liberation Serif", serif' font-size="11.5" font-style="italic" fill="#1a1a1a" stroke="#1a1a1a" stroke-width="0.12" text-anchor="start">θ</text>
<text x="50.1" y="514.9" font-family='"Liberation Serif", serif' font-size="9.5" font-style="italic" fill="#1a1a1a" stroke="#1a1a1a" stroke-width="0.12" text-anchor="start">p</text>
<text transform="translate(57.8,511.3) scale(1.22,1)" font-family='"Liberation Serif", serif' font-size="11.5" fill="#1a1a1a" stroke="#1a1a1a" stroke-width="0.15">=</text>
<text x="67.6" y="511.3" font-family='"Liberation Serif", serif' font-size="11.5" fill="#1a1a1a" stroke="#1a1a1a" stroke-width="0.12" text-anchor="start">0.22</text>
<text x="245.35" y="457.9" font-family='"Liberation Serif", serif' font-size="11.5" font-style="italic" fill="#1a1a1a" stroke="#1a1a1a" stroke-width="0.12" text-anchor="start">ϕ</text>
<text transform="translate(253.9,457.9) scale(1.15,1)" font-family='"Liberation Serif", serif' font-size="10.5" fill="#1a1a1a" stroke="#1a1a1a" stroke-width="0.15">=</text>
<text x="262.3" y="457.9" font-family='"Liberation Serif", serif' font-size="10.5" fill="#1a1a1a" stroke="#1a1a1a" stroke-width="0.12" text-anchor="start">0</text>
<text x="266.9" y="478.9" font-family='"Liberation Serif", serif' font-size="11.5" font-style="italic" fill="#1a1a1a" stroke="#1a1a1a" stroke-width="0.12" text-anchor="start">θ</text>
<text x="273.85" y="482.5" font-family='"Liberation Serif", serif' font-size="9.5" font-style="italic" fill="#1a1a1a" stroke="#1a1a1a" stroke-width="0.12" text-anchor="start">p</text>
<text transform="translate(281.21,478.9) scale(1.22,1)" font-family='"Liberation Serif", serif' font-size="11.5" fill="#1a1a1a" stroke="#1a1a1a" stroke-width="0.15">=</text>
<text x="290.61" y="478.9" font-family='"Liberation Serif", serif' font-size="11.5" fill="#1a1a1a" stroke="#1a1a1a" stroke-width="0.12" text-anchor="start">0</text>
<text x="213.7" y="517" font-family='"Liberation Serif", serif' font-size="11.5" font-style="italic" fill="#1a1a1a" stroke="#1a1a1a" stroke-width="0.12" text-anchor="start">θ</text>
<text x="220.9" y="520.6" font-family='"Liberation Serif", serif' font-size="9.5" font-style="italic" fill="#1a1a1a" stroke="#1a1a1a" stroke-width="0.12" text-anchor="start">p</text>
<text transform="translate(228.6,517) scale(1.22,1)" font-family='"Liberation Serif", serif' font-size="11.5" fill="#1a1a1a" stroke="#1a1a1a" stroke-width="0.15">=</text>
<text x="238.4" y="517" font-family='"Liberation Serif", serif' font-size="11.5" fill="#1a1a1a" stroke="#1a1a1a" stroke-width="0.12" text-anchor="start">0.23</text>
<text x="386.05" y="451.6" font-family='"Liberation Serif", serif' font-size="11.5" font-style="italic" fill="#1a1a1a" stroke="#1a1a1a" stroke-width="0.12" text-anchor="start">ϕ</text>
<text transform="translate(393.71,453.7) scale(1.05,1)" font-family='"Liberation Serif", serif' font-size="11" fill="#1a1a1a" stroke="#1a1a1a" stroke-width="0.15">=</text>
<line x1="402.47" y1="449.8" x2="410.18" y2="449.8" stroke="#1a1a1a" stroke-width="0.9"/>
<text x="406.32" y="445.2" font-family='"Liberation Serif", serif' font-size="11" font-style="italic" fill="#1a1a1a" stroke="#1a1a1a" stroke-width="0.12" text-anchor="middle">π</text>
<text x="406.62" y="461" font-family='"Liberation Serif", serif' font-size="11" fill="#1a1a1a" stroke="#1a1a1a" stroke-width="0.12" text-anchor="middle">2</text>
<text x="433.1" y="470.4" font-family='"Liberation Serif", serif' font-size="11" font-style="italic" fill="#1a1a1a" stroke="#1a1a1a" stroke-width="0.12" text-anchor="start">θ</text>
<text x="439.68" y="474" font-family='"Liberation Serif", serif' font-size="9.5" font-style="italic" fill="#1a1a1a" stroke="#1a1a1a" stroke-width="0.12" text-anchor="start">p</text>
<text transform="translate(446.53,470.4) scale(1.22,1)" font-family='"Liberation Serif", serif' font-size="11" fill="#1a1a1a" stroke="#1a1a1a" stroke-width="0.15">=</text>
<text x="455.33" y="470.4" font-family='"Liberation Serif", serif' font-size="11" fill="#1a1a1a" stroke="#1a1a1a" stroke-width="0.12" text-anchor="start">0</text>
<text x="386.7" y="517.6" font-family='"Liberation Serif", serif' font-size="11" font-style="italic" fill="#1a1a1a" stroke="#1a1a1a" stroke-width="0.12" text-anchor="start">θ</text>
<text x="392.97" y="521.2" font-family='"Liberation Serif", serif' font-size="9.5" font-style="italic" fill="#1a1a1a" stroke="#1a1a1a" stroke-width="0.12" text-anchor="start">p</text>
<text transform="translate(399.39,517.6) scale(1.22,1)" font-family='"Liberation Serif", serif' font-size="11" fill="#1a1a1a" stroke="#1a1a1a" stroke-width="0.15">=</text>
<text x="407.69" y="517.6" font-family='"Liberation Serif", serif' font-size="11" fill="#1a1a1a" stroke="#1a1a1a" stroke-width="0.12" text-anchor="start">0.096</text>
<text x="576.55" y="450.2" font-family='"Liberation Serif", serif' font-size="11.5" font-style="italic" fill="#1a1a1a" stroke="#1a1a1a" stroke-width="0.12" text-anchor="start">ϕ</text>
<text transform="translate(584.67,450.2) scale(1.15,1)" font-family='"Liberation Serif", serif' font-size="10.5" fill="#1a1a1a" stroke="#1a1a1a" stroke-width="0.15">=</text>
<text x="592.64" y="450.2" font-family='"Liberation Serif", serif' font-size="10.5" fill="#1a1a1a" stroke="#1a1a1a" stroke-width="0.12" text-anchor="start">0</text>
<text x="596.5" y="467.4" font-family='"Liberation Serif", serif' font-size="11" font-style="italic" fill="#1a1a1a" stroke="#1a1a1a" stroke-width="0.12" text-anchor="start">θ</text>
<text x="603.02" y="471" font-family='"Liberation Serif", serif' font-size="9.5" font-style="italic" fill="#1a1a1a" stroke="#1a1a1a" stroke-width="0.12" text-anchor="start">p</text>
<text transform="translate(609.78,467.4) scale(1.22,1)" font-family='"Liberation Serif", serif' font-size="11" fill="#1a1a1a" stroke="#1a1a1a" stroke-width="0.15">=</text>
<text x="618.48" y="467.4" font-family='"Liberation Serif", serif' font-size="11" fill="#1a1a1a" stroke="#1a1a1a" stroke-width="0.12" text-anchor="start">0</text>
<text x="544.8" y="509.5" font-family='"Liberation Serif", serif' font-size="11" font-style="italic" fill="#1a1a1a" stroke="#1a1a1a" stroke-width="0.12" text-anchor="start">θ</text>
<text x="551.13" y="513.1" font-family='"Liberation Serif", serif' font-size="9.5" font-style="italic" fill="#1a1a1a" stroke="#1a1a1a" stroke-width="0.12" text-anchor="start">p</text>
<text transform="translate(557.64,509.5) scale(1.22,1)" font-family='"Liberation Serif", serif' font-size="11" fill="#1a1a1a" stroke="#1a1a1a" stroke-width="0.15">=</text>
<text x="566.04" y="509.5" font-family='"Liberation Serif", serif' font-size="11" fill="#1a1a1a" stroke="#1a1a1a" stroke-width="0.12" text-anchor="start">0.119</text>
<text x="264.35" y="756.4" font-family='"Liberation Serif", serif' font-size="11.5" font-style="italic" fill="#1a1a1a" stroke="#1a1a1a" stroke-width="0.12" text-anchor="start">ϕ</text>
<text transform="translate(273.24,758.5) scale(1.05,1)" font-family='"Liberation Serif", serif' font-size="12" fill="#1a1a1a" stroke="#1a1a1a" stroke-width="0.15">=</text>
<line x1="283.35" y1="754.6" x2="292.29" y2="754.6" stroke="#1a1a1a" stroke-width="0.9"/>
<text x="287.82" y="750" font-family='"Liberation Serif", serif' font-size="11" font-style="italic" fill="#1a1a1a" stroke="#1a1a1a" stroke-width="0.12" text-anchor="middle">π</text>
<text x="288.12" y="765.8" font-family='"Liberation Serif", serif' font-size="12" fill="#1a1a1a" stroke="#1a1a1a" stroke-width="0.12" text-anchor="middle">2</text>
<text x="241.1" y="785.1" font-family='"Liberation Serif", serif' font-size="12.5" font-style="italic" fill="#1a1a1a" stroke="#1a1a1a" stroke-width="0.12" text-anchor="start">θ</text>
<text transform="translate(251.17,785.1) scale(1.22,1)" font-family='"Liberation Serif", serif' font-size="12.5" fill="#1a1a1a" stroke="#1a1a1a" stroke-width="0.15">=</text>
<text x="262.31" y="785.1" font-family='"Liberation Serif", serif' font-size="12.5" fill="#1a1a1a" stroke="#1a1a1a" stroke-width="0.12" text-anchor="start">0</text>
<text x="196.2" y="817.4" font-family='"Liberation Serif", serif' font-size="13.6" font-style="italic" fill="#1a1a1a" stroke="#1a1a1a" stroke-width="0.12" text-anchor="start">θ</text>
<text transform="translate(206.74,817.4) scale(1.22,1)" font-family='"Liberation Serif", serif' font-size="13.6" fill="#1a1a1a" stroke="#1a1a1a" stroke-width="0.15">=</text>
<text x="218.42" y="817.4" font-family='"Liberation Serif", serif' font-size="13.6" fill="#1a1a1a" stroke="#1a1a1a" stroke-width="0.12" text-anchor="start">0.074</text>
<text x="445.75" y="748.7" font-family='"Liberation Serif", serif' font-size="11.5" font-style="italic" fill="#1a1a1a" stroke="#1a1a1a" stroke-width="0.12" text-anchor="start">ϕ</text>
<text transform="translate(454.47,748.7) scale(1.15,1)" font-family='"Liberation Serif", serif' font-size="10.5" fill="#1a1a1a" stroke="#1a1a1a" stroke-width="0.15">=</text>
<text x="463.04" y="748.7" font-family='"Liberation Serif", serif' font-size="10.5" fill="#1a1a1a" stroke="#1a1a1a" stroke-width="0.12" text-anchor="start">0</text>
<text x="412.4" y="777.3" font-family='"Liberation Serif", serif' font-size="11.5" font-style="italic" fill="#1a1a1a" stroke="#1a1a1a" stroke-width="0.12" text-anchor="start">θ</text>
<text transform="translate(421.81,777.3) scale(1.22,1)" font-family='"Liberation Serif", serif' font-size="11.5" fill="#1a1a1a" stroke="#1a1a1a" stroke-width="0.15">=</text>
<text x="432.2" y="777.3" font-family='"Liberation Serif", serif' font-size="11.5" fill="#1a1a1a" stroke="#1a1a1a" stroke-width="0.12" text-anchor="start">0</text>
<text x="387.7" y="801.9" font-family='"Liberation Serif", serif' font-size="11.5" font-style="italic" fill="#1a1a1a" stroke="#1a1a1a" stroke-width="0.12" text-anchor="start">θ</text>
<text transform="translate(396.64,801.9) scale(1.22,1)" font-family='"Liberation Serif", serif' font-size="11.5" fill="#1a1a1a" stroke="#1a1a1a" stroke-width="0.15">=</text>
<text x="406.49" y="801.9" font-family='"Liberation Serif", serif' font-size="11.5" fill="#1a1a1a" stroke="#1a1a1a" stroke-width="0.12" text-anchor="start">0.17</text>
</svg></body></html>
